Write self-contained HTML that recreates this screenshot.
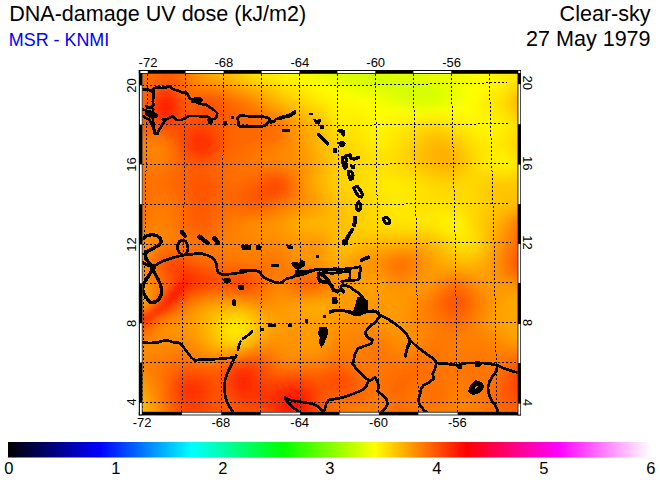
<!DOCTYPE html>
<html><head><meta charset="utf-8"><title>DNA-damage UV dose</title>
<style>
html,body{margin:0;padding:0;background:#fff;}
body{width:660px;height:480px;overflow:hidden;position:relative;font-family:"Liberation Sans",sans-serif;}
svg{position:absolute;left:0;top:0;}
text{font-family:"Liberation Sans",sans-serif;fill:#000;}
</style></head><body>
<svg width="660" height="480" viewBox="0 0 660 480">
<defs>
<clipPath id="mc"><rect x="142.5" y="73.8" width="375.0" height="338.0"/></clipPath>
<filter id="bl" x="-5%" y="-5%" width="110%" height="110%"><feGaussianBlur stdDeviation="3.5"/></filter>
<linearGradient id="cbg" x1="0" x2="1" y1="0" y2="0">
<stop offset="0" stop-color="#000"/><stop offset="0.142857" stop-color="#00f"/><stop offset="0.285714" stop-color="#0ff"/>
<stop offset="0.428571" stop-color="#0f0"/><stop offset="0.571429" stop-color="#ff0"/><stop offset="0.714286" stop-color="#f00"/>
<stop offset="0.857143" stop-color="#f0f"/><stop offset="1" stop-color="#fff"/>
</linearGradient>
</defs>
<rect x="0" y="0" width="660" height="480" fill="#fff"/>
<g clip-path="url(#mc)">
<rect x="142.5" y="73.8" width="375.0" height="338.0" fill="#ff9000"/>
<g filter="url(#bl)" shape-rendering="crispEdges">
<rect x="118" y="50" width="25" height="9" fill="#ff6600"/>
<rect x="142" y="50" width="9" height="9" fill="#ff6e00"/>
<rect x="150" y="50" width="9" height="9" fill="#ff6700"/>
<rect x="158" y="50" width="9" height="9" fill="#ff5d00"/>
<rect x="166" y="50" width="9" height="9" fill="#ff5900"/>
<rect x="174" y="50" width="9" height="9" fill="#ff6300"/>
<rect x="182" y="50" width="9" height="9" fill="#ff7500"/>
<rect x="190" y="50" width="9" height="9" fill="#ff8a00"/>
<rect x="198" y="50" width="9" height="9" fill="#ff9e00"/>
<rect x="206" y="50" width="9" height="9" fill="#ffab00"/>
<rect x="214" y="50" width="9" height="9" fill="#ffb400"/>
<rect x="222" y="50" width="9" height="9" fill="#ffbc00"/>
<rect x="230" y="50" width="9" height="9" fill="#ffc700"/>
<rect x="238" y="50" width="9" height="9" fill="#ffd400"/>
<rect x="246" y="50" width="9" height="9" fill="#ffe000"/>
<rect x="254" y="50" width="9" height="9" fill="#ffea00"/>
<rect x="262" y="50" width="9" height="9" fill="#fff100"/>
<rect x="270" y="50" width="9" height="9" fill="#fff500"/>
<rect x="278" y="50" width="9" height="9" fill="#fff900"/>
<rect x="286" y="50" width="9" height="9" fill="#fffe00"/>
<rect x="294" y="50" width="9" height="9" fill="#f8ff00"/>
<rect x="302" y="50" width="9" height="9" fill="#f1ff00"/>
<rect x="310" y="50" width="9" height="9" fill="#edff00"/>
<rect x="318" y="50" width="9" height="9" fill="#e7ff00"/>
<rect x="326" y="50" width="9" height="9" fill="#e1ff00"/>
<rect x="334" y="50" width="9" height="9" fill="#dbff00"/>
<rect x="342" y="50" width="9" height="9" fill="#daff00"/>
<rect x="350" y="50" width="9" height="9" fill="#d9ff00"/>
<rect x="358" y="50" width="9" height="9" fill="#d6ff00"/>
<rect x="366" y="50" width="17" height="9" fill="#d3ff00"/>
<rect x="382" y="50" width="9" height="9" fill="#d8ff00"/>
<rect x="390" y="50" width="17" height="9" fill="#ddff00"/>
<rect x="406" y="50" width="9" height="9" fill="#dcff00"/>
<rect x="414" y="50" width="9" height="9" fill="#e0ff00"/>
<rect x="422" y="50" width="9" height="9" fill="#e7ff00"/>
<rect x="430" y="50" width="9" height="9" fill="#ecff00"/>
<rect x="438" y="50" width="17" height="9" fill="#edff00"/>
<rect x="454" y="50" width="9" height="9" fill="#f1ff00"/>
<rect x="462" y="50" width="9" height="9" fill="#f8ff00"/>
<rect x="470" y="50" width="9" height="9" fill="#feff00"/>
<rect x="478" y="50" width="9" height="9" fill="#fffc00"/>
<rect x="486" y="50" width="9" height="9" fill="#fff700"/>
<rect x="494" y="50" width="9" height="9" fill="#fff100"/>
<rect x="502" y="50" width="9" height="9" fill="#ffec00"/>
<rect x="510" y="50" width="9" height="9" fill="#ffea00"/>
<rect x="518" y="50" width="25" height="9" fill="#ffec00"/>
<rect x="118" y="58" width="25" height="9" fill="#ff6600"/>
<rect x="142" y="58" width="9" height="9" fill="#ff6e00"/>
<rect x="150" y="58" width="9" height="9" fill="#ff6700"/>
<rect x="158" y="58" width="9" height="9" fill="#ff5d00"/>
<rect x="166" y="58" width="9" height="9" fill="#ff5a00"/>
<rect x="174" y="58" width="9" height="9" fill="#ff6300"/>
<rect x="182" y="58" width="9" height="9" fill="#ff7500"/>
<rect x="190" y="58" width="9" height="9" fill="#ff8a00"/>
<rect x="198" y="58" width="9" height="9" fill="#ff9e00"/>
<rect x="206" y="58" width="9" height="9" fill="#ffab00"/>
<rect x="214" y="58" width="9" height="9" fill="#ffb400"/>
<rect x="222" y="58" width="9" height="9" fill="#ffbc00"/>
<rect x="230" y="58" width="9" height="9" fill="#ffc700"/>
<rect x="238" y="58" width="9" height="9" fill="#ffd400"/>
<rect x="246" y="58" width="9" height="9" fill="#ffe000"/>
<rect x="254" y="58" width="9" height="9" fill="#ffea00"/>
<rect x="262" y="58" width="9" height="9" fill="#fff100"/>
<rect x="270" y="58" width="9" height="9" fill="#fff500"/>
<rect x="278" y="58" width="9" height="9" fill="#fff900"/>
<rect x="286" y="58" width="9" height="9" fill="#fffe00"/>
<rect x="294" y="58" width="9" height="9" fill="#f8ff00"/>
<rect x="302" y="58" width="9" height="9" fill="#f1ff00"/>
<rect x="310" y="58" width="9" height="9" fill="#edff00"/>
<rect x="318" y="58" width="9" height="9" fill="#e7ff00"/>
<rect x="326" y="58" width="9" height="9" fill="#e1ff00"/>
<rect x="334" y="58" width="9" height="9" fill="#dbff00"/>
<rect x="342" y="58" width="9" height="9" fill="#daff00"/>
<rect x="350" y="58" width="9" height="9" fill="#d9ff00"/>
<rect x="358" y="58" width="9" height="9" fill="#d6ff00"/>
<rect x="366" y="58" width="17" height="9" fill="#d3ff00"/>
<rect x="382" y="58" width="9" height="9" fill="#d8ff00"/>
<rect x="390" y="58" width="17" height="9" fill="#ddff00"/>
<rect x="406" y="58" width="9" height="9" fill="#dcff00"/>
<rect x="414" y="58" width="9" height="9" fill="#e0ff00"/>
<rect x="422" y="58" width="9" height="9" fill="#e7ff00"/>
<rect x="430" y="58" width="9" height="9" fill="#ecff00"/>
<rect x="438" y="58" width="17" height="9" fill="#edff00"/>
<rect x="454" y="58" width="9" height="9" fill="#f1ff00"/>
<rect x="462" y="58" width="9" height="9" fill="#f8ff00"/>
<rect x="470" y="58" width="9" height="9" fill="#feff00"/>
<rect x="478" y="58" width="9" height="9" fill="#fffc00"/>
<rect x="486" y="58" width="9" height="9" fill="#fff700"/>
<rect x="494" y="58" width="9" height="9" fill="#fff100"/>
<rect x="502" y="58" width="9" height="9" fill="#ffec00"/>
<rect x="510" y="58" width="9" height="9" fill="#ffea00"/>
<rect x="518" y="58" width="25" height="9" fill="#ffec00"/>
<rect x="118" y="66" width="25" height="9" fill="#ff6600"/>
<rect x="142" y="66" width="9" height="9" fill="#ff6e00"/>
<rect x="150" y="66" width="9" height="9" fill="#ff6700"/>
<rect x="158" y="66" width="9" height="9" fill="#ff5d00"/>
<rect x="166" y="66" width="9" height="9" fill="#ff5a00"/>
<rect x="174" y="66" width="9" height="9" fill="#ff6300"/>
<rect x="182" y="66" width="9" height="9" fill="#ff7500"/>
<rect x="190" y="66" width="9" height="9" fill="#ff8a00"/>
<rect x="198" y="66" width="9" height="9" fill="#ff9e00"/>
<rect x="206" y="66" width="9" height="9" fill="#ffab00"/>
<rect x="214" y="66" width="9" height="9" fill="#ffb400"/>
<rect x="222" y="66" width="9" height="9" fill="#ffbc00"/>
<rect x="230" y="66" width="9" height="9" fill="#ffc700"/>
<rect x="238" y="66" width="9" height="9" fill="#ffd300"/>
<rect x="246" y="66" width="9" height="9" fill="#ffe000"/>
<rect x="254" y="66" width="9" height="9" fill="#ffea00"/>
<rect x="262" y="66" width="9" height="9" fill="#fff100"/>
<rect x="270" y="66" width="9" height="9" fill="#fff400"/>
<rect x="278" y="66" width="9" height="9" fill="#fff800"/>
<rect x="286" y="66" width="9" height="9" fill="#fffe00"/>
<rect x="294" y="66" width="9" height="9" fill="#f8ff00"/>
<rect x="302" y="66" width="9" height="9" fill="#f2ff00"/>
<rect x="310" y="66" width="9" height="9" fill="#edff00"/>
<rect x="318" y="66" width="9" height="9" fill="#e8ff00"/>
<rect x="326" y="66" width="9" height="9" fill="#e1ff00"/>
<rect x="334" y="66" width="9" height="9" fill="#dcff00"/>
<rect x="342" y="66" width="9" height="9" fill="#daff00"/>
<rect x="350" y="66" width="9" height="9" fill="#d9ff00"/>
<rect x="358" y="66" width="9" height="9" fill="#d6ff00"/>
<rect x="366" y="66" width="17" height="9" fill="#d3ff00"/>
<rect x="382" y="66" width="9" height="9" fill="#d8ff00"/>
<rect x="390" y="66" width="9" height="9" fill="#dcff00"/>
<rect x="398" y="66" width="9" height="9" fill="#ddff00"/>
<rect x="406" y="66" width="9" height="9" fill="#dcff00"/>
<rect x="414" y="66" width="9" height="9" fill="#dfff00"/>
<rect x="422" y="66" width="9" height="9" fill="#e7ff00"/>
<rect x="430" y="66" width="9" height="9" fill="#ecff00"/>
<rect x="438" y="66" width="17" height="9" fill="#edff00"/>
<rect x="454" y="66" width="9" height="9" fill="#f1ff00"/>
<rect x="462" y="66" width="9" height="9" fill="#f8ff00"/>
<rect x="470" y="66" width="9" height="9" fill="#feff00"/>
<rect x="478" y="66" width="9" height="9" fill="#fffc00"/>
<rect x="486" y="66" width="9" height="9" fill="#fff800"/>
<rect x="494" y="66" width="9" height="9" fill="#fff100"/>
<rect x="502" y="66" width="9" height="9" fill="#ffec00"/>
<rect x="510" y="66" width="9" height="9" fill="#ffea00"/>
<rect x="518" y="66" width="25" height="9" fill="#ffeb00"/>
<rect x="118" y="74" width="25" height="9" fill="#ff6500"/>
<rect x="142" y="74" width="9" height="9" fill="#ff6d00"/>
<rect x="150" y="74" width="9" height="9" fill="#ff6700"/>
<rect x="158" y="74" width="9" height="9" fill="#ff5d00"/>
<rect x="166" y="74" width="9" height="9" fill="#ff5b00"/>
<rect x="174" y="74" width="9" height="9" fill="#ff6400"/>
<rect x="182" y="74" width="9" height="9" fill="#ff7500"/>
<rect x="190" y="74" width="9" height="9" fill="#ff8800"/>
<rect x="198" y="74" width="9" height="9" fill="#ff9800"/>
<rect x="206" y="74" width="9" height="9" fill="#ffa300"/>
<rect x="214" y="74" width="9" height="9" fill="#ffab00"/>
<rect x="222" y="74" width="9" height="9" fill="#ffb300"/>
<rect x="230" y="74" width="9" height="9" fill="#ffbf00"/>
<rect x="238" y="74" width="9" height="9" fill="#ffcb00"/>
<rect x="246" y="74" width="9" height="9" fill="#ffd600"/>
<rect x="254" y="74" width="9" height="9" fill="#ffdf00"/>
<rect x="262" y="74" width="9" height="9" fill="#ffe600"/>
<rect x="270" y="74" width="9" height="9" fill="#ffec00"/>
<rect x="278" y="74" width="9" height="9" fill="#fff100"/>
<rect x="286" y="74" width="9" height="9" fill="#fff800"/>
<rect x="294" y="74" width="9" height="9" fill="#fffd00"/>
<rect x="302" y="74" width="9" height="9" fill="#fbff00"/>
<rect x="310" y="74" width="9" height="9" fill="#f5ff00"/>
<rect x="318" y="74" width="9" height="9" fill="#eeff00"/>
<rect x="326" y="74" width="9" height="9" fill="#e7ff00"/>
<rect x="334" y="74" width="9" height="9" fill="#e1ff00"/>
<rect x="342" y="74" width="9" height="9" fill="#ddff00"/>
<rect x="350" y="74" width="9" height="9" fill="#daff00"/>
<rect x="358" y="74" width="9" height="9" fill="#d7ff00"/>
<rect x="366" y="74" width="17" height="9" fill="#d5ff00"/>
<rect x="382" y="74" width="9" height="9" fill="#d7ff00"/>
<rect x="390" y="74" width="17" height="9" fill="#d9ff00"/>
<rect x="406" y="74" width="9" height="9" fill="#daff00"/>
<rect x="414" y="74" width="9" height="9" fill="#ddff00"/>
<rect x="422" y="74" width="9" height="9" fill="#e3ff00"/>
<rect x="430" y="74" width="9" height="9" fill="#e8ff00"/>
<rect x="438" y="74" width="9" height="9" fill="#eaff00"/>
<rect x="446" y="74" width="9" height="9" fill="#ecff00"/>
<rect x="454" y="74" width="9" height="9" fill="#f0ff00"/>
<rect x="462" y="74" width="9" height="9" fill="#f7ff00"/>
<rect x="470" y="74" width="9" height="9" fill="#fcff00"/>
<rect x="478" y="74" width="9" height="9" fill="#fffe00"/>
<rect x="486" y="74" width="9" height="9" fill="#fff900"/>
<rect x="494" y="74" width="9" height="9" fill="#fff400"/>
<rect x="502" y="74" width="9" height="9" fill="#ffed00"/>
<rect x="510" y="74" width="33" height="9" fill="#ffe900"/>
<rect x="118" y="82" width="25" height="9" fill="#ff6300"/>
<rect x="142" y="82" width="9" height="9" fill="#ff6a00"/>
<rect x="150" y="82" width="9" height="9" fill="#ff5f00"/>
<rect x="158" y="82" width="9" height="9" fill="#ff5100"/>
<rect x="166" y="82" width="9" height="9" fill="#ff5000"/>
<rect x="174" y="82" width="9" height="9" fill="#ff5e00"/>
<rect x="182" y="82" width="9" height="9" fill="#ff7000"/>
<rect x="190" y="82" width="9" height="9" fill="#ff7b00"/>
<rect x="198" y="82" width="9" height="9" fill="#ff8200"/>
<rect x="206" y="82" width="9" height="9" fill="#ff8700"/>
<rect x="214" y="82" width="9" height="9" fill="#ff8e00"/>
<rect x="222" y="82" width="9" height="9" fill="#ff9700"/>
<rect x="230" y="82" width="9" height="9" fill="#ffa200"/>
<rect x="238" y="82" width="9" height="9" fill="#ffad00"/>
<rect x="246" y="82" width="9" height="9" fill="#ffb700"/>
<rect x="254" y="82" width="9" height="9" fill="#ffbf00"/>
<rect x="262" y="82" width="9" height="9" fill="#ffc900"/>
<rect x="270" y="82" width="9" height="9" fill="#ffd400"/>
<rect x="278" y="82" width="9" height="9" fill="#ffde00"/>
<rect x="286" y="82" width="9" height="9" fill="#ffe600"/>
<rect x="294" y="82" width="9" height="9" fill="#ffed00"/>
<rect x="302" y="82" width="9" height="9" fill="#fff300"/>
<rect x="310" y="82" width="9" height="9" fill="#fff900"/>
<rect x="318" y="82" width="9" height="9" fill="#fffe00"/>
<rect x="326" y="82" width="9" height="9" fill="#f9ff00"/>
<rect x="334" y="82" width="9" height="9" fill="#f2ff00"/>
<rect x="342" y="82" width="9" height="9" fill="#ebff00"/>
<rect x="350" y="82" width="9" height="9" fill="#e4ff00"/>
<rect x="358" y="82" width="9" height="9" fill="#e1ff00"/>
<rect x="366" y="82" width="9" height="9" fill="#e0ff00"/>
<rect x="374" y="82" width="9" height="9" fill="#deff00"/>
<rect x="382" y="82" width="9" height="9" fill="#daff00"/>
<rect x="390" y="82" width="9" height="9" fill="#d6ff00"/>
<rect x="398" y="82" width="9" height="9" fill="#d5ff00"/>
<rect x="406" y="82" width="9" height="9" fill="#d6ff00"/>
<rect x="414" y="82" width="9" height="9" fill="#d7ff00"/>
<rect x="422" y="82" width="9" height="9" fill="#d9ff00"/>
<rect x="430" y="82" width="9" height="9" fill="#ddff00"/>
<rect x="438" y="82" width="9" height="9" fill="#e2ff00"/>
<rect x="446" y="82" width="9" height="9" fill="#e8ff00"/>
<rect x="454" y="82" width="9" height="9" fill="#eeff00"/>
<rect x="462" y="82" width="9" height="9" fill="#f5ff00"/>
<rect x="470" y="82" width="9" height="9" fill="#fcff00"/>
<rect x="478" y="82" width="9" height="9" fill="#fffc00"/>
<rect x="486" y="82" width="9" height="9" fill="#fff800"/>
<rect x="494" y="82" width="9" height="9" fill="#fff200"/>
<rect x="502" y="82" width="9" height="9" fill="#ffea00"/>
<rect x="510" y="82" width="9" height="9" fill="#ffde00"/>
<rect x="518" y="82" width="25" height="9" fill="#ffd600"/>
<rect x="118" y="90" width="33" height="9" fill="#ff6400"/>
<rect x="150" y="90" width="9" height="9" fill="#ff4f00"/>
<rect x="158" y="90" width="9" height="9" fill="#ff3900"/>
<rect x="166" y="90" width="9" height="9" fill="#ff3800"/>
<rect x="174" y="90" width="9" height="9" fill="#ff4f00"/>
<rect x="182" y="90" width="9" height="9" fill="#ff6600"/>
<rect x="190" y="90" width="9" height="9" fill="#ff6b00"/>
<rect x="198" y="90" width="17" height="9" fill="#ff6900"/>
<rect x="214" y="90" width="9" height="9" fill="#ff7000"/>
<rect x="222" y="90" width="9" height="9" fill="#ff7a00"/>
<rect x="230" y="90" width="9" height="9" fill="#ff8500"/>
<rect x="238" y="90" width="9" height="9" fill="#ff8f00"/>
<rect x="246" y="90" width="9" height="9" fill="#ff9a00"/>
<rect x="254" y="90" width="9" height="9" fill="#ffa400"/>
<rect x="262" y="90" width="9" height="9" fill="#ffb200"/>
<rect x="270" y="90" width="9" height="9" fill="#ffc000"/>
<rect x="278" y="90" width="9" height="9" fill="#ffcd00"/>
<rect x="286" y="90" width="9" height="9" fill="#ffd600"/>
<rect x="294" y="90" width="9" height="9" fill="#ffde00"/>
<rect x="302" y="90" width="9" height="9" fill="#ffe600"/>
<rect x="310" y="90" width="9" height="9" fill="#ffee00"/>
<rect x="318" y="90" width="9" height="9" fill="#fff500"/>
<rect x="326" y="90" width="9" height="9" fill="#fff900"/>
<rect x="334" y="90" width="9" height="9" fill="#fffd00"/>
<rect x="342" y="90" width="9" height="9" fill="#fbff00"/>
<rect x="350" y="90" width="9" height="9" fill="#f4ff00"/>
<rect x="358" y="90" width="9" height="9" fill="#f0ff00"/>
<rect x="366" y="90" width="9" height="9" fill="#eeff00"/>
<rect x="374" y="90" width="9" height="9" fill="#e9ff00"/>
<rect x="382" y="90" width="9" height="9" fill="#e2ff00"/>
<rect x="390" y="90" width="9" height="9" fill="#dbff00"/>
<rect x="398" y="90" width="9" height="9" fill="#d8ff00"/>
<rect x="406" y="90" width="9" height="9" fill="#d7ff00"/>
<rect x="414" y="90" width="9" height="9" fill="#d6ff00"/>
<rect x="422" y="90" width="9" height="9" fill="#d4ff00"/>
<rect x="430" y="90" width="9" height="9" fill="#d5ff00"/>
<rect x="438" y="90" width="9" height="9" fill="#ddff00"/>
<rect x="446" y="90" width="9" height="9" fill="#e6ff00"/>
<rect x="454" y="90" width="9" height="9" fill="#eeff00"/>
<rect x="462" y="90" width="9" height="9" fill="#f6ff00"/>
<rect x="470" y="90" width="9" height="9" fill="#fffe00"/>
<rect x="478" y="90" width="9" height="9" fill="#fff700"/>
<rect x="486" y="90" width="9" height="9" fill="#fff000"/>
<rect x="494" y="90" width="9" height="9" fill="#ffea00"/>
<rect x="502" y="90" width="9" height="9" fill="#ffe000"/>
<rect x="510" y="90" width="9" height="9" fill="#ffcd00"/>
<rect x="518" y="90" width="9" height="9" fill="#ffbe00"/>
<rect x="526" y="90" width="17" height="9" fill="#ffbd00"/>
<rect x="118" y="98" width="17" height="9" fill="#ff6300"/>
<rect x="134" y="98" width="9" height="9" fill="#ff6400"/>
<rect x="142" y="98" width="9" height="9" fill="#ff5e00"/>
<rect x="150" y="98" width="9" height="9" fill="#ff4000"/>
<rect x="158" y="98" width="9" height="9" fill="#ff2300"/>
<rect x="166" y="98" width="9" height="9" fill="#ff2400"/>
<rect x="174" y="98" width="9" height="9" fill="#ff4100"/>
<rect x="182" y="98" width="9" height="9" fill="#ff5b00"/>
<rect x="190" y="98" width="9" height="9" fill="#ff5e00"/>
<rect x="198" y="98" width="9" height="9" fill="#ff5500"/>
<rect x="206" y="98" width="9" height="9" fill="#ff5300"/>
<rect x="214" y="98" width="9" height="9" fill="#ff5a00"/>
<rect x="222" y="98" width="9" height="9" fill="#ff6500"/>
<rect x="230" y="98" width="9" height="9" fill="#ff6e00"/>
<rect x="238" y="98" width="9" height="9" fill="#ff7700"/>
<rect x="246" y="98" width="9" height="9" fill="#ff8200"/>
<rect x="254" y="98" width="9" height="9" fill="#ff8f00"/>
<rect x="262" y="98" width="9" height="9" fill="#ff9d00"/>
<rect x="270" y="98" width="9" height="9" fill="#ffac00"/>
<rect x="278" y="98" width="9" height="9" fill="#ffba00"/>
<rect x="286" y="98" width="9" height="9" fill="#ffc500"/>
<rect x="294" y="98" width="9" height="9" fill="#ffce00"/>
<rect x="302" y="98" width="9" height="9" fill="#ffd800"/>
<rect x="310" y="98" width="9" height="9" fill="#ffe200"/>
<rect x="318" y="98" width="9" height="9" fill="#ffea00"/>
<rect x="326" y="98" width="9" height="9" fill="#fff100"/>
<rect x="334" y="98" width="9" height="9" fill="#fff600"/>
<rect x="342" y="98" width="9" height="9" fill="#fff900"/>
<rect x="350" y="98" width="9" height="9" fill="#fffb00"/>
<rect x="358" y="98" width="9" height="9" fill="#fffe00"/>
<rect x="366" y="98" width="9" height="9" fill="#fbff00"/>
<rect x="374" y="98" width="9" height="9" fill="#f5ff00"/>
<rect x="382" y="98" width="9" height="9" fill="#edff00"/>
<rect x="390" y="98" width="9" height="9" fill="#e7ff00"/>
<rect x="398" y="98" width="9" height="9" fill="#e4ff00"/>
<rect x="406" y="98" width="9" height="9" fill="#e1ff00"/>
<rect x="414" y="98" width="9" height="9" fill="#deff00"/>
<rect x="422" y="98" width="9" height="9" fill="#daff00"/>
<rect x="430" y="98" width="9" height="9" fill="#dbff00"/>
<rect x="438" y="98" width="9" height="9" fill="#e2ff00"/>
<rect x="446" y="98" width="9" height="9" fill="#ecff00"/>
<rect x="454" y="98" width="9" height="9" fill="#f3ff00"/>
<rect x="462" y="98" width="9" height="9" fill="#f9ff00"/>
<rect x="470" y="98" width="9" height="9" fill="#fffc00"/>
<rect x="478" y="98" width="9" height="9" fill="#fff200"/>
<rect x="486" y="98" width="9" height="9" fill="#ffe900"/>
<rect x="494" y="98" width="9" height="9" fill="#ffe300"/>
<rect x="502" y="98" width="9" height="9" fill="#ffd800"/>
<rect x="510" y="98" width="9" height="9" fill="#ffc200"/>
<rect x="518" y="98" width="9" height="9" fill="#ffae00"/>
<rect x="526" y="98" width="17" height="9" fill="#ffad00"/>
<rect x="118" y="106" width="25" height="9" fill="#ff6000"/>
<rect x="142" y="106" width="9" height="9" fill="#ff5800"/>
<rect x="150" y="106" width="9" height="9" fill="#ff3b00"/>
<rect x="158" y="106" width="9" height="9" fill="#ff2100"/>
<rect x="166" y="106" width="9" height="9" fill="#ff2200"/>
<rect x="174" y="106" width="9" height="9" fill="#ff3d00"/>
<rect x="182" y="106" width="9" height="9" fill="#ff5500"/>
<rect x="190" y="106" width="9" height="9" fill="#ff5600"/>
<rect x="198" y="106" width="9" height="9" fill="#ff4d00"/>
<rect x="206" y="106" width="9" height="9" fill="#ff4b00"/>
<rect x="214" y="106" width="9" height="9" fill="#ff5200"/>
<rect x="222" y="106" width="9" height="9" fill="#ff5c00"/>
<rect x="230" y="106" width="9" height="9" fill="#ff6300"/>
<rect x="238" y="106" width="9" height="9" fill="#ff6a00"/>
<rect x="246" y="106" width="9" height="9" fill="#ff7200"/>
<rect x="254" y="106" width="9" height="9" fill="#ff7d00"/>
<rect x="262" y="106" width="9" height="9" fill="#ff8900"/>
<rect x="270" y="106" width="9" height="9" fill="#ff9600"/>
<rect x="278" y="106" width="9" height="9" fill="#ffa400"/>
<rect x="286" y="106" width="9" height="9" fill="#ffb200"/>
<rect x="294" y="106" width="9" height="9" fill="#ffbe00"/>
<rect x="302" y="106" width="9" height="9" fill="#ffc800"/>
<rect x="310" y="106" width="9" height="9" fill="#ffd000"/>
<rect x="318" y="106" width="9" height="9" fill="#ffdb00"/>
<rect x="326" y="106" width="9" height="9" fill="#ffe800"/>
<rect x="334" y="106" width="9" height="9" fill="#fff200"/>
<rect x="342" y="106" width="9" height="9" fill="#fff500"/>
<rect x="350" y="106" width="9" height="9" fill="#fff400"/>
<rect x="358" y="106" width="9" height="9" fill="#fff600"/>
<rect x="366" y="106" width="9" height="9" fill="#fffb00"/>
<rect x="374" y="106" width="9" height="9" fill="#feff00"/>
<rect x="382" y="106" width="9" height="9" fill="#faff00"/>
<rect x="390" y="106" width="9" height="9" fill="#f9ff00"/>
<rect x="398" y="106" width="9" height="9" fill="#f8ff00"/>
<rect x="406" y="106" width="9" height="9" fill="#f5ff00"/>
<rect x="414" y="106" width="9" height="9" fill="#f3ff00"/>
<rect x="422" y="106" width="9" height="9" fill="#f2ff00"/>
<rect x="430" y="106" width="9" height="9" fill="#f4ff00"/>
<rect x="438" y="106" width="9" height="9" fill="#f8ff00"/>
<rect x="446" y="106" width="9" height="9" fill="#fcff00"/>
<rect x="454" y="106" width="9" height="9" fill="#feff00"/>
<rect x="462" y="106" width="9" height="9" fill="#fffe00"/>
<rect x="470" y="106" width="9" height="9" fill="#fffa00"/>
<rect x="478" y="106" width="9" height="9" fill="#fff300"/>
<rect x="486" y="106" width="9" height="9" fill="#ffeb00"/>
<rect x="494" y="106" width="9" height="9" fill="#ffe500"/>
<rect x="502" y="106" width="9" height="9" fill="#ffdb00"/>
<rect x="510" y="106" width="9" height="9" fill="#ffc800"/>
<rect x="518" y="106" width="25" height="9" fill="#ffb500"/>
<rect x="118" y="114" width="25" height="9" fill="#ff5c00"/>
<rect x="142" y="114" width="9" height="9" fill="#ff5500"/>
<rect x="150" y="114" width="9" height="9" fill="#ff4200"/>
<rect x="158" y="114" width="9" height="9" fill="#ff3200"/>
<rect x="166" y="114" width="9" height="9" fill="#ff3300"/>
<rect x="174" y="114" width="9" height="9" fill="#ff4300"/>
<rect x="182" y="114" width="17" height="9" fill="#ff5200"/>
<rect x="198" y="114" width="9" height="9" fill="#ff4d00"/>
<rect x="206" y="114" width="9" height="9" fill="#ff4e00"/>
<rect x="214" y="114" width="9" height="9" fill="#ff5500"/>
<rect x="222" y="114" width="9" height="9" fill="#ff5c00"/>
<rect x="230" y="114" width="9" height="9" fill="#ff6100"/>
<rect x="238" y="114" width="9" height="9" fill="#ff6600"/>
<rect x="246" y="114" width="9" height="9" fill="#ff6a00"/>
<rect x="254" y="114" width="9" height="9" fill="#ff7000"/>
<rect x="262" y="114" width="9" height="9" fill="#ff7600"/>
<rect x="270" y="114" width="9" height="9" fill="#ff7f00"/>
<rect x="278" y="114" width="9" height="9" fill="#ff8c00"/>
<rect x="286" y="114" width="9" height="9" fill="#ff9e00"/>
<rect x="294" y="114" width="9" height="9" fill="#ffaf00"/>
<rect x="302" y="114" width="9" height="9" fill="#ffb800"/>
<rect x="310" y="114" width="9" height="9" fill="#ffbe00"/>
<rect x="318" y="114" width="9" height="9" fill="#ffcb00"/>
<rect x="326" y="114" width="9" height="9" fill="#ffdf00"/>
<rect x="334" y="114" width="9" height="9" fill="#ffee00"/>
<rect x="342" y="114" width="9" height="9" fill="#fff100"/>
<rect x="350" y="114" width="9" height="9" fill="#ffef00"/>
<rect x="358" y="114" width="9" height="9" fill="#fff100"/>
<rect x="366" y="114" width="9" height="9" fill="#fff800"/>
<rect x="374" y="114" width="9" height="9" fill="#fffc00"/>
<rect x="382" y="114" width="9" height="9" fill="#fffb00"/>
<rect x="390" y="114" width="9" height="9" fill="#fff700"/>
<rect x="398" y="114" width="17" height="9" fill="#fff600"/>
<rect x="414" y="114" width="9" height="9" fill="#fff400"/>
<rect x="422" y="114" width="9" height="9" fill="#fff100"/>
<rect x="430" y="114" width="9" height="9" fill="#ffef00"/>
<rect x="438" y="114" width="9" height="9" fill="#fff000"/>
<rect x="446" y="114" width="9" height="9" fill="#fff300"/>
<rect x="454" y="114" width="9" height="9" fill="#fff600"/>
<rect x="462" y="114" width="17" height="9" fill="#fff800"/>
<rect x="478" y="114" width="9" height="9" fill="#fff600"/>
<rect x="486" y="114" width="9" height="9" fill="#fff200"/>
<rect x="494" y="114" width="9" height="9" fill="#ffed00"/>
<rect x="502" y="114" width="9" height="9" fill="#ffe500"/>
<rect x="510" y="114" width="9" height="9" fill="#ffd800"/>
<rect x="518" y="114" width="9" height="9" fill="#ffcd00"/>
<rect x="526" y="114" width="17" height="9" fill="#ffcc00"/>
<rect x="118" y="122" width="25" height="9" fill="#ff5e00"/>
<rect x="142" y="122" width="9" height="9" fill="#ff5c00"/>
<rect x="150" y="122" width="9" height="9" fill="#ff5400"/>
<rect x="158" y="122" width="9" height="9" fill="#ff4c00"/>
<rect x="166" y="122" width="9" height="9" fill="#ff4a00"/>
<rect x="174" y="122" width="9" height="9" fill="#ff4c00"/>
<rect x="182" y="122" width="9" height="9" fill="#ff4e00"/>
<rect x="190" y="122" width="9" height="9" fill="#ff4a00"/>
<rect x="198" y="122" width="9" height="9" fill="#ff4800"/>
<rect x="206" y="122" width="9" height="9" fill="#ff4c00"/>
<rect x="214" y="122" width="9" height="9" fill="#ff5600"/>
<rect x="222" y="122" width="9" height="9" fill="#ff5f00"/>
<rect x="230" y="122" width="9" height="9" fill="#ff6400"/>
<rect x="238" y="122" width="9" height="9" fill="#ff6600"/>
<rect x="246" y="122" width="9" height="9" fill="#ff6700"/>
<rect x="254" y="122" width="9" height="9" fill="#ff6800"/>
<rect x="262" y="122" width="9" height="9" fill="#ff6a00"/>
<rect x="270" y="122" width="9" height="9" fill="#ff6f00"/>
<rect x="278" y="122" width="9" height="9" fill="#ff7c00"/>
<rect x="286" y="122" width="9" height="9" fill="#ff9000"/>
<rect x="294" y="122" width="9" height="9" fill="#ffa200"/>
<rect x="302" y="122" width="9" height="9" fill="#ffac00"/>
<rect x="310" y="122" width="9" height="9" fill="#ffb200"/>
<rect x="318" y="122" width="9" height="9" fill="#ffc000"/>
<rect x="326" y="122" width="9" height="9" fill="#ffd600"/>
<rect x="334" y="122" width="9" height="9" fill="#ffe800"/>
<rect x="342" y="122" width="9" height="9" fill="#ffec00"/>
<rect x="350" y="122" width="9" height="9" fill="#ffe900"/>
<rect x="358" y="122" width="9" height="9" fill="#ffec00"/>
<rect x="366" y="122" width="9" height="9" fill="#fff400"/>
<rect x="374" y="122" width="9" height="9" fill="#fff800"/>
<rect x="382" y="122" width="9" height="9" fill="#fff500"/>
<rect x="390" y="122" width="9" height="9" fill="#ffef00"/>
<rect x="398" y="122" width="9" height="9" fill="#ffeb00"/>
<rect x="406" y="122" width="9" height="9" fill="#ffe800"/>
<rect x="414" y="122" width="9" height="9" fill="#ffe300"/>
<rect x="422" y="122" width="9" height="9" fill="#ffdc00"/>
<rect x="430" y="122" width="9" height="9" fill="#ffd800"/>
<rect x="438" y="122" width="9" height="9" fill="#ffdb00"/>
<rect x="446" y="122" width="9" height="9" fill="#ffe200"/>
<rect x="454" y="122" width="9" height="9" fill="#ffe900"/>
<rect x="462" y="122" width="9" height="9" fill="#ffef00"/>
<rect x="470" y="122" width="9" height="9" fill="#fff400"/>
<rect x="478" y="122" width="9" height="9" fill="#fff700"/>
<rect x="486" y="122" width="9" height="9" fill="#fff600"/>
<rect x="494" y="122" width="9" height="9" fill="#fff200"/>
<rect x="502" y="122" width="9" height="9" fill="#ffeb00"/>
<rect x="510" y="122" width="9" height="9" fill="#ffe300"/>
<rect x="518" y="122" width="9" height="9" fill="#ffdd00"/>
<rect x="526" y="122" width="17" height="9" fill="#ffdc00"/>
<rect x="118" y="130" width="25" height="9" fill="#ff6a00"/>
<rect x="142" y="130" width="9" height="9" fill="#ff6d00"/>
<rect x="150" y="130" width="9" height="9" fill="#ff6b00"/>
<rect x="158" y="130" width="9" height="9" fill="#ff6600"/>
<rect x="166" y="130" width="9" height="9" fill="#ff5e00"/>
<rect x="174" y="130" width="9" height="9" fill="#ff5300"/>
<rect x="182" y="130" width="9" height="9" fill="#ff4700"/>
<rect x="190" y="130" width="9" height="9" fill="#ff3b00"/>
<rect x="198" y="130" width="9" height="9" fill="#ff3600"/>
<rect x="206" y="130" width="9" height="9" fill="#ff3f00"/>
<rect x="214" y="130" width="9" height="9" fill="#ff5000"/>
<rect x="222" y="130" width="9" height="9" fill="#ff5e00"/>
<rect x="230" y="130" width="9" height="9" fill="#ff6500"/>
<rect x="238" y="130" width="17" height="9" fill="#ff6700"/>
<rect x="254" y="130" width="9" height="9" fill="#ff6800"/>
<rect x="262" y="130" width="9" height="9" fill="#ff6900"/>
<rect x="270" y="130" width="9" height="9" fill="#ff6d00"/>
<rect x="278" y="130" width="9" height="9" fill="#ff7800"/>
<rect x="286" y="130" width="9" height="9" fill="#ff8900"/>
<rect x="294" y="130" width="9" height="9" fill="#ff9a00"/>
<rect x="302" y="130" width="9" height="9" fill="#ffa600"/>
<rect x="310" y="130" width="9" height="9" fill="#ffaf00"/>
<rect x="318" y="130" width="9" height="9" fill="#ffbd00"/>
<rect x="326" y="130" width="9" height="9" fill="#ffcf00"/>
<rect x="334" y="130" width="9" height="9" fill="#ffde00"/>
<rect x="342" y="130" width="9" height="9" fill="#ffe200"/>
<rect x="350" y="130" width="9" height="9" fill="#ffe300"/>
<rect x="358" y="130" width="9" height="9" fill="#ffe800"/>
<rect x="366" y="130" width="9" height="9" fill="#fff000"/>
<rect x="374" y="130" width="9" height="9" fill="#fff400"/>
<rect x="382" y="130" width="9" height="9" fill="#fff000"/>
<rect x="390" y="130" width="9" height="9" fill="#ffe900"/>
<rect x="398" y="130" width="9" height="9" fill="#ffe300"/>
<rect x="406" y="130" width="9" height="9" fill="#ffde00"/>
<rect x="414" y="130" width="9" height="9" fill="#ffd500"/>
<rect x="422" y="130" width="9" height="9" fill="#ffcb00"/>
<rect x="430" y="130" width="9" height="9" fill="#ffc600"/>
<rect x="438" y="130" width="9" height="9" fill="#ffc900"/>
<rect x="446" y="130" width="9" height="9" fill="#ffd100"/>
<rect x="454" y="130" width="9" height="9" fill="#ffda00"/>
<rect x="462" y="130" width="9" height="9" fill="#ffe300"/>
<rect x="470" y="130" width="9" height="9" fill="#ffeb00"/>
<rect x="478" y="130" width="9" height="9" fill="#fff000"/>
<rect x="486" y="130" width="9" height="9" fill="#fff200"/>
<rect x="494" y="130" width="9" height="9" fill="#ffef00"/>
<rect x="502" y="130" width="9" height="9" fill="#ffe800"/>
<rect x="510" y="130" width="9" height="9" fill="#ffdf00"/>
<rect x="518" y="130" width="25" height="9" fill="#ffd800"/>
<rect x="118" y="138" width="17" height="9" fill="#ff7700"/>
<rect x="134" y="138" width="9" height="9" fill="#ff7800"/>
<rect x="142" y="138" width="9" height="9" fill="#ff7d00"/>
<rect x="150" y="138" width="9" height="9" fill="#ff7e00"/>
<rect x="158" y="138" width="9" height="9" fill="#ff7900"/>
<rect x="166" y="138" width="9" height="9" fill="#ff6d00"/>
<rect x="174" y="138" width="9" height="9" fill="#ff5900"/>
<rect x="182" y="138" width="9" height="9" fill="#ff4300"/>
<rect x="190" y="138" width="9" height="9" fill="#ff3000"/>
<rect x="198" y="138" width="9" height="9" fill="#ff2900"/>
<rect x="206" y="138" width="9" height="9" fill="#ff3400"/>
<rect x="214" y="138" width="9" height="9" fill="#ff4a00"/>
<rect x="222" y="138" width="9" height="9" fill="#ff5d00"/>
<rect x="230" y="138" width="9" height="9" fill="#ff6500"/>
<rect x="238" y="138" width="9" height="9" fill="#ff6800"/>
<rect x="246" y="138" width="9" height="9" fill="#ff6a00"/>
<rect x="254" y="138" width="9" height="9" fill="#ff6d00"/>
<rect x="262" y="138" width="9" height="9" fill="#ff7000"/>
<rect x="270" y="138" width="9" height="9" fill="#ff7500"/>
<rect x="278" y="138" width="9" height="9" fill="#ff7d00"/>
<rect x="286" y="138" width="9" height="9" fill="#ff8900"/>
<rect x="294" y="138" width="9" height="9" fill="#ff9600"/>
<rect x="302" y="138" width="9" height="9" fill="#ffa300"/>
<rect x="310" y="138" width="9" height="9" fill="#ffb000"/>
<rect x="318" y="138" width="9" height="9" fill="#ffbd00"/>
<rect x="326" y="138" width="9" height="9" fill="#ffca00"/>
<rect x="334" y="138" width="9" height="9" fill="#ffd400"/>
<rect x="342" y="138" width="9" height="9" fill="#ffd900"/>
<rect x="350" y="138" width="9" height="9" fill="#ffdd00"/>
<rect x="358" y="138" width="9" height="9" fill="#ffe300"/>
<rect x="366" y="138" width="9" height="9" fill="#ffeb00"/>
<rect x="374" y="138" width="9" height="9" fill="#ffef00"/>
<rect x="382" y="138" width="9" height="9" fill="#ffec00"/>
<rect x="390" y="138" width="9" height="9" fill="#ffe500"/>
<rect x="398" y="138" width="9" height="9" fill="#ffde00"/>
<rect x="406" y="138" width="9" height="9" fill="#ffd600"/>
<rect x="414" y="138" width="9" height="9" fill="#ffcc00"/>
<rect x="422" y="138" width="9" height="9" fill="#ffc100"/>
<rect x="430" y="138" width="17" height="9" fill="#ffba00"/>
<rect x="446" y="138" width="9" height="9" fill="#ffc100"/>
<rect x="454" y="138" width="9" height="9" fill="#ffcc00"/>
<rect x="462" y="138" width="9" height="9" fill="#ffd800"/>
<rect x="470" y="138" width="9" height="9" fill="#ffe100"/>
<rect x="478" y="138" width="9" height="9" fill="#ffe800"/>
<rect x="486" y="138" width="9" height="9" fill="#ffea00"/>
<rect x="494" y="138" width="9" height="9" fill="#ffe900"/>
<rect x="502" y="138" width="9" height="9" fill="#ffe400"/>
<rect x="510" y="138" width="9" height="9" fill="#ffd800"/>
<rect x="518" y="138" width="9" height="9" fill="#ffcd00"/>
<rect x="526" y="138" width="17" height="9" fill="#ffcc00"/>
<rect x="118" y="146" width="17" height="9" fill="#ff7d00"/>
<rect x="134" y="146" width="9" height="9" fill="#ff7e00"/>
<rect x="142" y="146" width="9" height="9" fill="#ff8300"/>
<rect x="150" y="146" width="9" height="9" fill="#ff8600"/>
<rect x="158" y="146" width="9" height="9" fill="#ff8200"/>
<rect x="166" y="146" width="9" height="9" fill="#ff7500"/>
<rect x="174" y="146" width="9" height="9" fill="#ff6000"/>
<rect x="182" y="146" width="9" height="9" fill="#ff4900"/>
<rect x="190" y="146" width="9" height="9" fill="#ff3700"/>
<rect x="198" y="146" width="9" height="9" fill="#ff3000"/>
<rect x="206" y="146" width="9" height="9" fill="#ff3b00"/>
<rect x="214" y="146" width="9" height="9" fill="#ff4f00"/>
<rect x="222" y="146" width="9" height="9" fill="#ff6000"/>
<rect x="230" y="146" width="9" height="9" fill="#ff6800"/>
<rect x="238" y="146" width="9" height="9" fill="#ff6b00"/>
<rect x="246" y="146" width="9" height="9" fill="#ff6f00"/>
<rect x="254" y="146" width="9" height="9" fill="#ff7400"/>
<rect x="262" y="146" width="9" height="9" fill="#ff7a00"/>
<rect x="270" y="146" width="9" height="9" fill="#ff7f00"/>
<rect x="278" y="146" width="9" height="9" fill="#ff8500"/>
<rect x="286" y="146" width="9" height="9" fill="#ff8c00"/>
<rect x="294" y="146" width="9" height="9" fill="#ff9500"/>
<rect x="302" y="146" width="9" height="9" fill="#ffa000"/>
<rect x="310" y="146" width="9" height="9" fill="#ffac00"/>
<rect x="318" y="146" width="9" height="9" fill="#ffb900"/>
<rect x="326" y="146" width="9" height="9" fill="#ffc500"/>
<rect x="334" y="146" width="9" height="9" fill="#ffce00"/>
<rect x="342" y="146" width="9" height="9" fill="#ffd400"/>
<rect x="350" y="146" width="9" height="9" fill="#ffd800"/>
<rect x="358" y="146" width="9" height="9" fill="#ffde00"/>
<rect x="366" y="146" width="9" height="9" fill="#ffe500"/>
<rect x="374" y="146" width="9" height="9" fill="#ffe800"/>
<rect x="382" y="146" width="9" height="9" fill="#ffe600"/>
<rect x="390" y="146" width="9" height="9" fill="#ffe000"/>
<rect x="398" y="146" width="9" height="9" fill="#ffd800"/>
<rect x="406" y="146" width="9" height="9" fill="#ffd000"/>
<rect x="414" y="146" width="9" height="9" fill="#ffc500"/>
<rect x="422" y="146" width="9" height="9" fill="#ffbb00"/>
<rect x="430" y="146" width="9" height="9" fill="#ffb300"/>
<rect x="438" y="146" width="9" height="9" fill="#ffb100"/>
<rect x="446" y="146" width="9" height="9" fill="#ffb600"/>
<rect x="454" y="146" width="9" height="9" fill="#ffc000"/>
<rect x="462" y="146" width="9" height="9" fill="#ffce00"/>
<rect x="470" y="146" width="9" height="9" fill="#ffdb00"/>
<rect x="478" y="146" width="9" height="9" fill="#ffe400"/>
<rect x="486" y="146" width="9" height="9" fill="#ffe900"/>
<rect x="494" y="146" width="9" height="9" fill="#ffeb00"/>
<rect x="502" y="146" width="9" height="9" fill="#ffe800"/>
<rect x="510" y="146" width="9" height="9" fill="#ffdc00"/>
<rect x="518" y="146" width="9" height="9" fill="#ffcc00"/>
<rect x="526" y="146" width="17" height="9" fill="#ffcb00"/>
<rect x="118" y="154" width="17" height="9" fill="#ff7a00"/>
<rect x="134" y="154" width="9" height="9" fill="#ff7b00"/>
<rect x="142" y="154" width="9" height="9" fill="#ff7f00"/>
<rect x="150" y="154" width="9" height="9" fill="#ff8200"/>
<rect x="158" y="154" width="9" height="9" fill="#ff8000"/>
<rect x="166" y="154" width="9" height="9" fill="#ff7600"/>
<rect x="174" y="154" width="9" height="9" fill="#ff6600"/>
<rect x="182" y="154" width="9" height="9" fill="#ff5600"/>
<rect x="190" y="154" width="9" height="9" fill="#ff4b00"/>
<rect x="198" y="154" width="9" height="9" fill="#ff4800"/>
<rect x="206" y="154" width="9" height="9" fill="#ff4f00"/>
<rect x="214" y="154" width="9" height="9" fill="#ff5c00"/>
<rect x="222" y="154" width="9" height="9" fill="#ff6600"/>
<rect x="230" y="154" width="9" height="9" fill="#ff6c00"/>
<rect x="238" y="154" width="9" height="9" fill="#ff6f00"/>
<rect x="246" y="154" width="9" height="9" fill="#ff7400"/>
<rect x="254" y="154" width="9" height="9" fill="#ff7a00"/>
<rect x="262" y="154" width="9" height="9" fill="#ff8000"/>
<rect x="270" y="154" width="9" height="9" fill="#ff8500"/>
<rect x="278" y="154" width="9" height="9" fill="#ff8a00"/>
<rect x="286" y="154" width="9" height="9" fill="#ff8e00"/>
<rect x="294" y="154" width="9" height="9" fill="#ff9300"/>
<rect x="302" y="154" width="9" height="9" fill="#ff9b00"/>
<rect x="310" y="154" width="9" height="9" fill="#ffa600"/>
<rect x="318" y="154" width="9" height="9" fill="#ffb300"/>
<rect x="326" y="154" width="9" height="9" fill="#ffc200"/>
<rect x="334" y="154" width="9" height="9" fill="#ffcd00"/>
<rect x="342" y="154" width="9" height="9" fill="#ffd300"/>
<rect x="350" y="154" width="9" height="9" fill="#ffd700"/>
<rect x="358" y="154" width="9" height="9" fill="#ffdb00"/>
<rect x="366" y="154" width="9" height="9" fill="#ffe000"/>
<rect x="374" y="154" width="9" height="9" fill="#ffe300"/>
<rect x="382" y="154" width="9" height="9" fill="#ffe100"/>
<rect x="390" y="154" width="9" height="9" fill="#ffdc00"/>
<rect x="398" y="154" width="9" height="9" fill="#ffd500"/>
<rect x="406" y="154" width="9" height="9" fill="#ffcc00"/>
<rect x="414" y="154" width="9" height="9" fill="#ffc300"/>
<rect x="422" y="154" width="9" height="9" fill="#ffba00"/>
<rect x="430" y="154" width="9" height="9" fill="#ffb300"/>
<rect x="438" y="154" width="9" height="9" fill="#ffae00"/>
<rect x="446" y="154" width="9" height="9" fill="#ffb000"/>
<rect x="454" y="154" width="9" height="9" fill="#ffba00"/>
<rect x="462" y="154" width="9" height="9" fill="#ffc900"/>
<rect x="470" y="154" width="9" height="9" fill="#ffd800"/>
<rect x="478" y="154" width="9" height="9" fill="#ffe300"/>
<rect x="486" y="154" width="9" height="9" fill="#ffeb00"/>
<rect x="494" y="154" width="17" height="9" fill="#fff000"/>
<rect x="510" y="154" width="9" height="9" fill="#ffe500"/>
<rect x="518" y="154" width="25" height="9" fill="#ffd400"/>
<rect x="118" y="162" width="17" height="9" fill="#ff7300"/>
<rect x="134" y="162" width="9" height="9" fill="#ff7400"/>
<rect x="142" y="162" width="9" height="9" fill="#ff7800"/>
<rect x="150" y="162" width="17" height="9" fill="#ff7a00"/>
<rect x="166" y="162" width="9" height="9" fill="#ff7300"/>
<rect x="174" y="162" width="9" height="9" fill="#ff6900"/>
<rect x="182" y="162" width="9" height="9" fill="#ff6000"/>
<rect x="190" y="162" width="9" height="9" fill="#ff5b00"/>
<rect x="198" y="162" width="9" height="9" fill="#ff5a00"/>
<rect x="206" y="162" width="9" height="9" fill="#ff5f00"/>
<rect x="214" y="162" width="9" height="9" fill="#ff6500"/>
<rect x="222" y="162" width="9" height="9" fill="#ff6b00"/>
<rect x="230" y="162" width="9" height="9" fill="#ff6e00"/>
<rect x="238" y="162" width="9" height="9" fill="#ff7100"/>
<rect x="246" y="162" width="9" height="9" fill="#ff7500"/>
<rect x="254" y="162" width="9" height="9" fill="#ff7800"/>
<rect x="262" y="162" width="9" height="9" fill="#ff7b00"/>
<rect x="270" y="162" width="9" height="9" fill="#ff7d00"/>
<rect x="278" y="162" width="9" height="9" fill="#ff8000"/>
<rect x="286" y="162" width="9" height="9" fill="#ff8700"/>
<rect x="294" y="162" width="9" height="9" fill="#ff8f00"/>
<rect x="302" y="162" width="9" height="9" fill="#ff9800"/>
<rect x="310" y="162" width="9" height="9" fill="#ffa300"/>
<rect x="318" y="162" width="9" height="9" fill="#ffb100"/>
<rect x="326" y="162" width="9" height="9" fill="#ffc100"/>
<rect x="334" y="162" width="9" height="9" fill="#ffcf00"/>
<rect x="342" y="162" width="9" height="9" fill="#ffd500"/>
<rect x="350" y="162" width="9" height="9" fill="#ffd700"/>
<rect x="358" y="162" width="9" height="9" fill="#ffda00"/>
<rect x="366" y="162" width="9" height="9" fill="#ffde00"/>
<rect x="374" y="162" width="9" height="9" fill="#ffe100"/>
<rect x="382" y="162" width="9" height="9" fill="#ffe000"/>
<rect x="390" y="162" width="9" height="9" fill="#ffdc00"/>
<rect x="398" y="162" width="9" height="9" fill="#ffd600"/>
<rect x="406" y="162" width="9" height="9" fill="#ffd000"/>
<rect x="414" y="162" width="9" height="9" fill="#ffc800"/>
<rect x="422" y="162" width="9" height="9" fill="#ffc000"/>
<rect x="430" y="162" width="9" height="9" fill="#ffb900"/>
<rect x="438" y="162" width="17" height="9" fill="#ffb400"/>
<rect x="454" y="162" width="9" height="9" fill="#ffbc00"/>
<rect x="462" y="162" width="9" height="9" fill="#ffca00"/>
<rect x="470" y="162" width="9" height="9" fill="#ffd800"/>
<rect x="478" y="162" width="9" height="9" fill="#ffe100"/>
<rect x="486" y="162" width="9" height="9" fill="#ffe800"/>
<rect x="494" y="162" width="9" height="9" fill="#ffee00"/>
<rect x="502" y="162" width="9" height="9" fill="#ffef00"/>
<rect x="510" y="162" width="9" height="9" fill="#ffe800"/>
<rect x="518" y="162" width="9" height="9" fill="#ffd900"/>
<rect x="526" y="162" width="17" height="9" fill="#ffd800"/>
<rect x="118" y="170" width="9" height="9" fill="#ff6d00"/>
<rect x="126" y="170" width="9" height="9" fill="#ff6e00"/>
<rect x="134" y="170" width="9" height="9" fill="#ff6f00"/>
<rect x="142" y="170" width="9" height="9" fill="#ff7300"/>
<rect x="150" y="170" width="9" height="9" fill="#ff7400"/>
<rect x="158" y="170" width="9" height="9" fill="#ff7200"/>
<rect x="166" y="170" width="9" height="9" fill="#ff6d00"/>
<rect x="174" y="170" width="9" height="9" fill="#ff6700"/>
<rect x="182" y="170" width="9" height="9" fill="#ff6000"/>
<rect x="190" y="170" width="9" height="9" fill="#ff5c00"/>
<rect x="198" y="170" width="9" height="9" fill="#ff5b00"/>
<rect x="206" y="170" width="9" height="9" fill="#ff5f00"/>
<rect x="214" y="170" width="9" height="9" fill="#ff6600"/>
<rect x="222" y="170" width="9" height="9" fill="#ff6c00"/>
<rect x="230" y="170" width="9" height="9" fill="#ff6e00"/>
<rect x="238" y="170" width="17" height="9" fill="#ff6f00"/>
<rect x="254" y="170" width="9" height="9" fill="#ff6c00"/>
<rect x="262" y="170" width="9" height="9" fill="#ff6800"/>
<rect x="270" y="170" width="9" height="9" fill="#ff6400"/>
<rect x="278" y="170" width="9" height="9" fill="#ff6900"/>
<rect x="286" y="170" width="9" height="9" fill="#ff7700"/>
<rect x="294" y="170" width="9" height="9" fill="#ff8900"/>
<rect x="302" y="170" width="9" height="9" fill="#ff9800"/>
<rect x="310" y="170" width="9" height="9" fill="#ffa600"/>
<rect x="318" y="170" width="9" height="9" fill="#ffb400"/>
<rect x="326" y="170" width="9" height="9" fill="#ffc400"/>
<rect x="334" y="170" width="9" height="9" fill="#ffd000"/>
<rect x="342" y="170" width="9" height="9" fill="#ffd600"/>
<rect x="350" y="170" width="9" height="9" fill="#ffd900"/>
<rect x="358" y="170" width="9" height="9" fill="#ffdc00"/>
<rect x="366" y="170" width="9" height="9" fill="#ffe100"/>
<rect x="374" y="170" width="9" height="9" fill="#ffe400"/>
<rect x="382" y="170" width="9" height="9" fill="#ffe500"/>
<rect x="390" y="170" width="9" height="9" fill="#ffe200"/>
<rect x="398" y="170" width="9" height="9" fill="#ffdf00"/>
<rect x="406" y="170" width="9" height="9" fill="#ffda00"/>
<rect x="414" y="170" width="9" height="9" fill="#ffd400"/>
<rect x="422" y="170" width="9" height="9" fill="#ffcc00"/>
<rect x="430" y="170" width="9" height="9" fill="#ffc600"/>
<rect x="438" y="170" width="17" height="9" fill="#ffc200"/>
<rect x="454" y="170" width="9" height="9" fill="#ffc800"/>
<rect x="462" y="170" width="9" height="9" fill="#ffd000"/>
<rect x="470" y="170" width="9" height="9" fill="#ffd700"/>
<rect x="478" y="170" width="9" height="9" fill="#ffda00"/>
<rect x="486" y="170" width="9" height="9" fill="#ffdc00"/>
<rect x="494" y="170" width="9" height="9" fill="#ffde00"/>
<rect x="502" y="170" width="9" height="9" fill="#ffe000"/>
<rect x="510" y="170" width="9" height="9" fill="#ffdb00"/>
<rect x="518" y="170" width="25" height="9" fill="#ffd100"/>
<rect x="118" y="178" width="17" height="9" fill="#ff6a00"/>
<rect x="134" y="178" width="9" height="9" fill="#ff6c00"/>
<rect x="142" y="178" width="17" height="9" fill="#ff7100"/>
<rect x="158" y="178" width="9" height="9" fill="#ff6e00"/>
<rect x="166" y="178" width="9" height="9" fill="#ff6a00"/>
<rect x="174" y="178" width="9" height="9" fill="#ff6400"/>
<rect x="182" y="178" width="9" height="9" fill="#ff5d00"/>
<rect x="190" y="178" width="9" height="9" fill="#ff5600"/>
<rect x="198" y="178" width="9" height="9" fill="#ff5400"/>
<rect x="206" y="178" width="9" height="9" fill="#ff5900"/>
<rect x="214" y="178" width="9" height="9" fill="#ff6200"/>
<rect x="222" y="178" width="9" height="9" fill="#ff6a00"/>
<rect x="230" y="178" width="9" height="9" fill="#ff6c00"/>
<rect x="238" y="178" width="9" height="9" fill="#ff6a00"/>
<rect x="246" y="178" width="9" height="9" fill="#ff6500"/>
<rect x="254" y="178" width="9" height="9" fill="#ff5e00"/>
<rect x="262" y="178" width="9" height="9" fill="#ff5400"/>
<rect x="270" y="178" width="9" height="9" fill="#ff4d00"/>
<rect x="278" y="178" width="9" height="9" fill="#ff5300"/>
<rect x="286" y="178" width="9" height="9" fill="#ff6800"/>
<rect x="294" y="178" width="9" height="9" fill="#ff8200"/>
<rect x="302" y="178" width="9" height="9" fill="#ff9800"/>
<rect x="310" y="178" width="9" height="9" fill="#ffa800"/>
<rect x="318" y="178" width="9" height="9" fill="#ffb600"/>
<rect x="326" y="178" width="9" height="9" fill="#ffc500"/>
<rect x="334" y="178" width="9" height="9" fill="#ffd000"/>
<rect x="342" y="178" width="9" height="9" fill="#ffd500"/>
<rect x="350" y="178" width="9" height="9" fill="#ffd900"/>
<rect x="358" y="178" width="9" height="9" fill="#ffdd00"/>
<rect x="366" y="178" width="9" height="9" fill="#ffe300"/>
<rect x="374" y="178" width="9" height="9" fill="#ffe700"/>
<rect x="382" y="178" width="17" height="9" fill="#ffea00"/>
<rect x="398" y="178" width="9" height="9" fill="#ffe800"/>
<rect x="406" y="178" width="9" height="9" fill="#ffe500"/>
<rect x="414" y="178" width="9" height="9" fill="#ffdf00"/>
<rect x="422" y="178" width="9" height="9" fill="#ffd800"/>
<rect x="430" y="178" width="9" height="9" fill="#ffd300"/>
<rect x="438" y="178" width="17" height="9" fill="#ffd100"/>
<rect x="454" y="178" width="9" height="9" fill="#ffd400"/>
<rect x="462" y="178" width="17" height="9" fill="#ffd700"/>
<rect x="478" y="178" width="9" height="9" fill="#ffd300"/>
<rect x="486" y="178" width="9" height="9" fill="#ffce00"/>
<rect x="494" y="178" width="17" height="9" fill="#ffcd00"/>
<rect x="510" y="178" width="9" height="9" fill="#ffcb00"/>
<rect x="518" y="178" width="25" height="9" fill="#ffc700"/>
<rect x="118" y="186" width="17" height="9" fill="#ff6a00"/>
<rect x="134" y="186" width="9" height="9" fill="#ff6c00"/>
<rect x="142" y="186" width="9" height="9" fill="#ff7000"/>
<rect x="150" y="186" width="9" height="9" fill="#ff7100"/>
<rect x="158" y="186" width="9" height="9" fill="#ff7000"/>
<rect x="166" y="186" width="9" height="9" fill="#ff6c00"/>
<rect x="174" y="186" width="9" height="9" fill="#ff6600"/>
<rect x="182" y="186" width="9" height="9" fill="#ff5e00"/>
<rect x="190" y="186" width="9" height="9" fill="#ff5600"/>
<rect x="198" y="186" width="9" height="9" fill="#ff5200"/>
<rect x="206" y="186" width="9" height="9" fill="#ff5700"/>
<rect x="214" y="186" width="9" height="9" fill="#ff6000"/>
<rect x="222" y="186" width="9" height="9" fill="#ff6700"/>
<rect x="230" y="186" width="9" height="9" fill="#ff6800"/>
<rect x="238" y="186" width="9" height="9" fill="#ff6400"/>
<rect x="246" y="186" width="9" height="9" fill="#ff5d00"/>
<rect x="254" y="186" width="9" height="9" fill="#ff5500"/>
<rect x="262" y="186" width="9" height="9" fill="#ff4d00"/>
<rect x="270" y="186" width="9" height="9" fill="#ff4900"/>
<rect x="278" y="186" width="9" height="9" fill="#ff5100"/>
<rect x="286" y="186" width="9" height="9" fill="#ff6600"/>
<rect x="294" y="186" width="9" height="9" fill="#ff7f00"/>
<rect x="302" y="186" width="9" height="9" fill="#ff9400"/>
<rect x="310" y="186" width="9" height="9" fill="#ffa300"/>
<rect x="318" y="186" width="9" height="9" fill="#ffb100"/>
<rect x="326" y="186" width="9" height="9" fill="#ffc000"/>
<rect x="334" y="186" width="9" height="9" fill="#ffcb00"/>
<rect x="342" y="186" width="9" height="9" fill="#ffd200"/>
<rect x="350" y="186" width="9" height="9" fill="#ffd500"/>
<rect x="358" y="186" width="9" height="9" fill="#ffda00"/>
<rect x="366" y="186" width="9" height="9" fill="#ffe000"/>
<rect x="374" y="186" width="9" height="9" fill="#ffe600"/>
<rect x="382" y="186" width="9" height="9" fill="#ffea00"/>
<rect x="390" y="186" width="9" height="9" fill="#ffec00"/>
<rect x="398" y="186" width="9" height="9" fill="#ffeb00"/>
<rect x="406" y="186" width="9" height="9" fill="#ffe800"/>
<rect x="414" y="186" width="9" height="9" fill="#ffe300"/>
<rect x="422" y="186" width="9" height="9" fill="#ffde00"/>
<rect x="430" y="186" width="9" height="9" fill="#ffdb00"/>
<rect x="438" y="186" width="9" height="9" fill="#ffd900"/>
<rect x="446" y="186" width="9" height="9" fill="#ffd800"/>
<rect x="454" y="186" width="9" height="9" fill="#ffd900"/>
<rect x="462" y="186" width="9" height="9" fill="#ffda00"/>
<rect x="470" y="186" width="9" height="9" fill="#ffd700"/>
<rect x="478" y="186" width="9" height="9" fill="#ffd000"/>
<rect x="486" y="186" width="9" height="9" fill="#ffc900"/>
<rect x="494" y="186" width="9" height="9" fill="#ffc500"/>
<rect x="502" y="186" width="9" height="9" fill="#ffc400"/>
<rect x="510" y="186" width="9" height="9" fill="#ffc500"/>
<rect x="518" y="186" width="25" height="9" fill="#ffc400"/>
<rect x="118" y="194" width="17" height="9" fill="#ff6c00"/>
<rect x="134" y="194" width="9" height="9" fill="#ff6d00"/>
<rect x="142" y="194" width="9" height="9" fill="#ff7000"/>
<rect x="150" y="194" width="9" height="9" fill="#ff7400"/>
<rect x="158" y="194" width="9" height="9" fill="#ff7500"/>
<rect x="166" y="194" width="9" height="9" fill="#ff7300"/>
<rect x="174" y="194" width="9" height="9" fill="#ff6c00"/>
<rect x="182" y="194" width="9" height="9" fill="#ff6300"/>
<rect x="190" y="194" width="9" height="9" fill="#ff5a00"/>
<rect x="198" y="194" width="9" height="9" fill="#ff5600"/>
<rect x="206" y="194" width="9" height="9" fill="#ff5a00"/>
<rect x="214" y="194" width="9" height="9" fill="#ff6200"/>
<rect x="222" y="194" width="9" height="9" fill="#ff6700"/>
<rect x="230" y="194" width="9" height="9" fill="#ff6600"/>
<rect x="238" y="194" width="9" height="9" fill="#ff6100"/>
<rect x="246" y="194" width="9" height="9" fill="#ff5a00"/>
<rect x="254" y="194" width="9" height="9" fill="#ff5600"/>
<rect x="262" y="194" width="9" height="9" fill="#ff5400"/>
<rect x="270" y="194" width="9" height="9" fill="#ff5900"/>
<rect x="278" y="194" width="9" height="9" fill="#ff6300"/>
<rect x="286" y="194" width="9" height="9" fill="#ff7200"/>
<rect x="294" y="194" width="9" height="9" fill="#ff8200"/>
<rect x="302" y="194" width="9" height="9" fill="#ff9000"/>
<rect x="310" y="194" width="9" height="9" fill="#ff9b00"/>
<rect x="318" y="194" width="9" height="9" fill="#ffa800"/>
<rect x="326" y="194" width="9" height="9" fill="#ffb800"/>
<rect x="334" y="194" width="9" height="9" fill="#ffc500"/>
<rect x="342" y="194" width="9" height="9" fill="#ffcc00"/>
<rect x="350" y="194" width="9" height="9" fill="#ffd000"/>
<rect x="358" y="194" width="9" height="9" fill="#ffd400"/>
<rect x="366" y="194" width="9" height="9" fill="#ffda00"/>
<rect x="374" y="194" width="9" height="9" fill="#ffe100"/>
<rect x="382" y="194" width="9" height="9" fill="#ffe700"/>
<rect x="390" y="194" width="9" height="9" fill="#ffeb00"/>
<rect x="398" y="194" width="9" height="9" fill="#ffe900"/>
<rect x="406" y="194" width="9" height="9" fill="#ffe500"/>
<rect x="414" y="194" width="9" height="9" fill="#ffe200"/>
<rect x="422" y="194" width="9" height="9" fill="#ffdf00"/>
<rect x="430" y="194" width="9" height="9" fill="#ffde00"/>
<rect x="438" y="194" width="9" height="9" fill="#ffdc00"/>
<rect x="446" y="194" width="25" height="9" fill="#ffda00"/>
<rect x="470" y="194" width="9" height="9" fill="#ffd700"/>
<rect x="478" y="194" width="9" height="9" fill="#ffd000"/>
<rect x="486" y="194" width="9" height="9" fill="#ffc900"/>
<rect x="494" y="194" width="9" height="9" fill="#ffc500"/>
<rect x="502" y="194" width="17" height="9" fill="#ffc300"/>
<rect x="518" y="194" width="9" height="9" fill="#ffc200"/>
<rect x="526" y="194" width="17" height="9" fill="#ffc100"/>
<rect x="118" y="202" width="17" height="9" fill="#ff6c00"/>
<rect x="134" y="202" width="9" height="9" fill="#ff6d00"/>
<rect x="142" y="202" width="9" height="9" fill="#ff7200"/>
<rect x="150" y="202" width="9" height="9" fill="#ff7700"/>
<rect x="158" y="202" width="9" height="9" fill="#ff7a00"/>
<rect x="166" y="202" width="9" height="9" fill="#ff7800"/>
<rect x="174" y="202" width="9" height="9" fill="#ff7000"/>
<rect x="182" y="202" width="9" height="9" fill="#ff6600"/>
<rect x="190" y="202" width="9" height="9" fill="#ff5d00"/>
<rect x="198" y="202" width="9" height="9" fill="#ff5900"/>
<rect x="206" y="202" width="9" height="9" fill="#ff5d00"/>
<rect x="214" y="202" width="9" height="9" fill="#ff6500"/>
<rect x="222" y="202" width="9" height="9" fill="#ff6a00"/>
<rect x="230" y="202" width="9" height="9" fill="#ff6900"/>
<rect x="238" y="202" width="9" height="9" fill="#ff6500"/>
<rect x="246" y="202" width="17" height="9" fill="#ff6200"/>
<rect x="262" y="202" width="9" height="9" fill="#ff6600"/>
<rect x="270" y="202" width="9" height="9" fill="#ff6f00"/>
<rect x="278" y="202" width="9" height="9" fill="#ff7900"/>
<rect x="286" y="202" width="9" height="9" fill="#ff8400"/>
<rect x="294" y="202" width="9" height="9" fill="#ff8d00"/>
<rect x="302" y="202" width="9" height="9" fill="#ff9500"/>
<rect x="310" y="202" width="9" height="9" fill="#ff9c00"/>
<rect x="318" y="202" width="9" height="9" fill="#ffa700"/>
<rect x="326" y="202" width="9" height="9" fill="#ffb400"/>
<rect x="334" y="202" width="9" height="9" fill="#ffc000"/>
<rect x="342" y="202" width="9" height="9" fill="#ffc700"/>
<rect x="350" y="202" width="9" height="9" fill="#ffcc00"/>
<rect x="358" y="202" width="9" height="9" fill="#ffd000"/>
<rect x="366" y="202" width="9" height="9" fill="#ffd700"/>
<rect x="374" y="202" width="9" height="9" fill="#ffde00"/>
<rect x="382" y="202" width="9" height="9" fill="#ffe500"/>
<rect x="390" y="202" width="9" height="9" fill="#ffe900"/>
<rect x="398" y="202" width="9" height="9" fill="#ffe800"/>
<rect x="406" y="202" width="9" height="9" fill="#ffe400"/>
<rect x="414" y="202" width="9" height="9" fill="#ffe200"/>
<rect x="422" y="202" width="9" height="9" fill="#ffe100"/>
<rect x="430" y="202" width="9" height="9" fill="#ffe200"/>
<rect x="438" y="202" width="9" height="9" fill="#ffe100"/>
<rect x="446" y="202" width="9" height="9" fill="#ffe000"/>
<rect x="454" y="202" width="9" height="9" fill="#ffde00"/>
<rect x="462" y="202" width="9" height="9" fill="#ffdb00"/>
<rect x="470" y="202" width="9" height="9" fill="#ffd600"/>
<rect x="478" y="202" width="9" height="9" fill="#ffd000"/>
<rect x="486" y="202" width="9" height="9" fill="#ffc900"/>
<rect x="494" y="202" width="9" height="9" fill="#ffc400"/>
<rect x="502" y="202" width="9" height="9" fill="#ffbf00"/>
<rect x="510" y="202" width="9" height="9" fill="#ffb900"/>
<rect x="518" y="202" width="25" height="9" fill="#ffb000"/>
<rect x="118" y="210" width="17" height="9" fill="#ff6a00"/>
<rect x="134" y="210" width="9" height="9" fill="#ff6c00"/>
<rect x="142" y="210" width="9" height="9" fill="#ff7300"/>
<rect x="150" y="210" width="9" height="9" fill="#ff7a00"/>
<rect x="158" y="210" width="9" height="9" fill="#ff7d00"/>
<rect x="166" y="210" width="9" height="9" fill="#ff7900"/>
<rect x="174" y="210" width="9" height="9" fill="#ff7000"/>
<rect x="182" y="210" width="9" height="9" fill="#ff6600"/>
<rect x="190" y="210" width="9" height="9" fill="#ff5d00"/>
<rect x="198" y="210" width="9" height="9" fill="#ff5a00"/>
<rect x="206" y="210" width="9" height="9" fill="#ff5f00"/>
<rect x="214" y="210" width="9" height="9" fill="#ff6900"/>
<rect x="222" y="210" width="9" height="9" fill="#ff6f00"/>
<rect x="230" y="210" width="17" height="9" fill="#ff7200"/>
<rect x="246" y="210" width="9" height="9" fill="#ff7400"/>
<rect x="254" y="210" width="9" height="9" fill="#ff7700"/>
<rect x="262" y="210" width="9" height="9" fill="#ff7c00"/>
<rect x="270" y="210" width="9" height="9" fill="#ff8300"/>
<rect x="278" y="210" width="9" height="9" fill="#ff8c00"/>
<rect x="286" y="210" width="9" height="9" fill="#ff9500"/>
<rect x="294" y="210" width="9" height="9" fill="#ff9e00"/>
<rect x="302" y="210" width="9" height="9" fill="#ffa400"/>
<rect x="310" y="210" width="9" height="9" fill="#ffa900"/>
<rect x="318" y="210" width="9" height="9" fill="#ffaf00"/>
<rect x="326" y="210" width="9" height="9" fill="#ffb600"/>
<rect x="334" y="210" width="9" height="9" fill="#ffbd00"/>
<rect x="342" y="210" width="9" height="9" fill="#ffc400"/>
<rect x="350" y="210" width="9" height="9" fill="#ffca00"/>
<rect x="358" y="210" width="9" height="9" fill="#ffd000"/>
<rect x="366" y="210" width="9" height="9" fill="#ffd700"/>
<rect x="374" y="210" width="9" height="9" fill="#ffdd00"/>
<rect x="382" y="210" width="9" height="9" fill="#ffe300"/>
<rect x="390" y="210" width="9" height="9" fill="#ffe700"/>
<rect x="398" y="210" width="9" height="9" fill="#ffe800"/>
<rect x="406" y="210" width="9" height="9" fill="#ffe700"/>
<rect x="414" y="210" width="9" height="9" fill="#ffe500"/>
<rect x="422" y="210" width="9" height="9" fill="#ffe600"/>
<rect x="430" y="210" width="9" height="9" fill="#ffe800"/>
<rect x="438" y="210" width="9" height="9" fill="#ffea00"/>
<rect x="446" y="210" width="9" height="9" fill="#ffeb00"/>
<rect x="454" y="210" width="9" height="9" fill="#ffe800"/>
<rect x="462" y="210" width="9" height="9" fill="#ffe000"/>
<rect x="470" y="210" width="9" height="9" fill="#ffd600"/>
<rect x="478" y="210" width="9" height="9" fill="#ffcc00"/>
<rect x="486" y="210" width="9" height="9" fill="#ffc400"/>
<rect x="494" y="210" width="9" height="9" fill="#ffbc00"/>
<rect x="502" y="210" width="9" height="9" fill="#ffb100"/>
<rect x="510" y="210" width="9" height="9" fill="#ffa100"/>
<rect x="518" y="210" width="9" height="9" fill="#ff8b00"/>
<rect x="526" y="210" width="17" height="9" fill="#ff8a00"/>
<rect x="118" y="218" width="17" height="9" fill="#ff6c00"/>
<rect x="134" y="218" width="9" height="9" fill="#ff6f00"/>
<rect x="142" y="218" width="9" height="9" fill="#ff7700"/>
<rect x="150" y="218" width="9" height="9" fill="#ff7e00"/>
<rect x="158" y="218" width="9" height="9" fill="#ff7f00"/>
<rect x="166" y="218" width="9" height="9" fill="#ff7a00"/>
<rect x="174" y="218" width="9" height="9" fill="#ff7100"/>
<rect x="182" y="218" width="9" height="9" fill="#ff6600"/>
<rect x="190" y="218" width="9" height="9" fill="#ff5e00"/>
<rect x="198" y="218" width="9" height="9" fill="#ff5c00"/>
<rect x="206" y="218" width="9" height="9" fill="#ff6200"/>
<rect x="214" y="218" width="9" height="9" fill="#ff6d00"/>
<rect x="222" y="218" width="9" height="9" fill="#ff7600"/>
<rect x="230" y="218" width="9" height="9" fill="#ff7c00"/>
<rect x="238" y="218" width="9" height="9" fill="#ff8000"/>
<rect x="246" y="218" width="9" height="9" fill="#ff8500"/>
<rect x="254" y="218" width="9" height="9" fill="#ff8900"/>
<rect x="262" y="218" width="9" height="9" fill="#ff8d00"/>
<rect x="270" y="218" width="9" height="9" fill="#ff9000"/>
<rect x="278" y="218" width="9" height="9" fill="#ff9600"/>
<rect x="286" y="218" width="9" height="9" fill="#ffa000"/>
<rect x="294" y="218" width="9" height="9" fill="#ffaa00"/>
<rect x="302" y="218" width="9" height="9" fill="#ffb100"/>
<rect x="310" y="218" width="9" height="9" fill="#ffb400"/>
<rect x="318" y="218" width="9" height="9" fill="#ffb600"/>
<rect x="326" y="218" width="9" height="9" fill="#ffb900"/>
<rect x="334" y="218" width="9" height="9" fill="#ffbd00"/>
<rect x="342" y="218" width="9" height="9" fill="#ffc300"/>
<rect x="350" y="218" width="9" height="9" fill="#ffca00"/>
<rect x="358" y="218" width="9" height="9" fill="#ffd100"/>
<rect x="366" y="218" width="9" height="9" fill="#ffd700"/>
<rect x="374" y="218" width="9" height="9" fill="#ffdb00"/>
<rect x="382" y="218" width="9" height="9" fill="#ffe000"/>
<rect x="390" y="218" width="9" height="9" fill="#ffe300"/>
<rect x="398" y="218" width="9" height="9" fill="#ffe400"/>
<rect x="406" y="218" width="17" height="9" fill="#ffe500"/>
<rect x="422" y="218" width="9" height="9" fill="#ffe600"/>
<rect x="430" y="218" width="9" height="9" fill="#ffe800"/>
<rect x="438" y="218" width="9" height="9" fill="#ffef00"/>
<rect x="446" y="218" width="9" height="9" fill="#fff300"/>
<rect x="454" y="218" width="9" height="9" fill="#fff100"/>
<rect x="462" y="218" width="9" height="9" fill="#ffe600"/>
<rect x="470" y="218" width="9" height="9" fill="#ffd700"/>
<rect x="478" y="218" width="9" height="9" fill="#ffca00"/>
<rect x="486" y="218" width="9" height="9" fill="#ffbd00"/>
<rect x="494" y="218" width="9" height="9" fill="#ffb100"/>
<rect x="502" y="218" width="9" height="9" fill="#ffa100"/>
<rect x="510" y="218" width="9" height="9" fill="#ff8900"/>
<rect x="518" y="218" width="9" height="9" fill="#ff6800"/>
<rect x="526" y="218" width="17" height="9" fill="#ff6700"/>
<rect x="118" y="226" width="17" height="9" fill="#ff7500"/>
<rect x="134" y="226" width="9" height="9" fill="#ff7800"/>
<rect x="142" y="226" width="9" height="9" fill="#ff7e00"/>
<rect x="150" y="226" width="9" height="9" fill="#ff8300"/>
<rect x="158" y="226" width="9" height="9" fill="#ff8400"/>
<rect x="166" y="226" width="9" height="9" fill="#ff7f00"/>
<rect x="174" y="226" width="9" height="9" fill="#ff7700"/>
<rect x="182" y="226" width="9" height="9" fill="#ff6d00"/>
<rect x="190" y="226" width="9" height="9" fill="#ff6600"/>
<rect x="198" y="226" width="9" height="9" fill="#ff6300"/>
<rect x="206" y="226" width="9" height="9" fill="#ff6800"/>
<rect x="214" y="226" width="9" height="9" fill="#ff7200"/>
<rect x="222" y="226" width="9" height="9" fill="#ff7b00"/>
<rect x="230" y="226" width="9" height="9" fill="#ff8000"/>
<rect x="238" y="226" width="9" height="9" fill="#ff8500"/>
<rect x="246" y="226" width="9" height="9" fill="#ff8b00"/>
<rect x="254" y="226" width="9" height="9" fill="#ff9000"/>
<rect x="262" y="226" width="9" height="9" fill="#ff9200"/>
<rect x="270" y="226" width="9" height="9" fill="#ff9300"/>
<rect x="278" y="226" width="9" height="9" fill="#ff9700"/>
<rect x="286" y="226" width="9" height="9" fill="#ffa000"/>
<rect x="294" y="226" width="9" height="9" fill="#ffa900"/>
<rect x="302" y="226" width="9" height="9" fill="#ffac00"/>
<rect x="310" y="226" width="9" height="9" fill="#ffad00"/>
<rect x="318" y="226" width="9" height="9" fill="#ffaf00"/>
<rect x="326" y="226" width="9" height="9" fill="#ffb600"/>
<rect x="334" y="226" width="9" height="9" fill="#ffbe00"/>
<rect x="342" y="226" width="9" height="9" fill="#ffc400"/>
<rect x="350" y="226" width="9" height="9" fill="#ffca00"/>
<rect x="358" y="226" width="9" height="9" fill="#ffce00"/>
<rect x="366" y="226" width="9" height="9" fill="#ffd100"/>
<rect x="374" y="226" width="9" height="9" fill="#ffd300"/>
<rect x="382" y="226" width="9" height="9" fill="#ffd600"/>
<rect x="390" y="226" width="9" height="9" fill="#ffd800"/>
<rect x="398" y="226" width="33" height="9" fill="#ffd900"/>
<rect x="430" y="226" width="9" height="9" fill="#ffdd00"/>
<rect x="438" y="226" width="9" height="9" fill="#ffe600"/>
<rect x="446" y="226" width="9" height="9" fill="#ffef00"/>
<rect x="454" y="226" width="9" height="9" fill="#fff000"/>
<rect x="462" y="226" width="9" height="9" fill="#ffe900"/>
<rect x="470" y="226" width="9" height="9" fill="#ffdb00"/>
<rect x="478" y="226" width="9" height="9" fill="#ffcb00"/>
<rect x="486" y="226" width="9" height="9" fill="#ffb900"/>
<rect x="494" y="226" width="9" height="9" fill="#ffa800"/>
<rect x="502" y="226" width="9" height="9" fill="#ff9600"/>
<rect x="510" y="226" width="9" height="9" fill="#ff7d00"/>
<rect x="518" y="226" width="9" height="9" fill="#ff5b00"/>
<rect x="526" y="226" width="17" height="9" fill="#ff5a00"/>
<rect x="118" y="234" width="25" height="9" fill="#ff8400"/>
<rect x="142" y="234" width="9" height="9" fill="#ff8600"/>
<rect x="150" y="234" width="9" height="9" fill="#ff8700"/>
<rect x="158" y="234" width="9" height="9" fill="#ff8600"/>
<rect x="166" y="234" width="9" height="9" fill="#ff8200"/>
<rect x="174" y="234" width="9" height="9" fill="#ff7c00"/>
<rect x="182" y="234" width="9" height="9" fill="#ff7600"/>
<rect x="190" y="234" width="9" height="9" fill="#ff6f00"/>
<rect x="198" y="234" width="9" height="9" fill="#ff6c00"/>
<rect x="206" y="234" width="9" height="9" fill="#ff7000"/>
<rect x="214" y="234" width="9" height="9" fill="#ff7700"/>
<rect x="222" y="234" width="9" height="9" fill="#ff7d00"/>
<rect x="230" y="234" width="9" height="9" fill="#ff8000"/>
<rect x="238" y="234" width="9" height="9" fill="#ff8300"/>
<rect x="246" y="234" width="9" height="9" fill="#ff8700"/>
<rect x="254" y="234" width="9" height="9" fill="#ff8b00"/>
<rect x="262" y="234" width="9" height="9" fill="#ff8d00"/>
<rect x="270" y="234" width="9" height="9" fill="#ff8e00"/>
<rect x="278" y="234" width="9" height="9" fill="#ff9100"/>
<rect x="286" y="234" width="9" height="9" fill="#ff9800"/>
<rect x="294" y="234" width="17" height="9" fill="#ff9e00"/>
<rect x="310" y="234" width="9" height="9" fill="#ff9c00"/>
<rect x="318" y="234" width="9" height="9" fill="#ffa100"/>
<rect x="326" y="234" width="9" height="9" fill="#ffaf00"/>
<rect x="334" y="234" width="9" height="9" fill="#ffbe00"/>
<rect x="342" y="234" width="9" height="9" fill="#ffc500"/>
<rect x="350" y="234" width="9" height="9" fill="#ffc600"/>
<rect x="358" y="234" width="9" height="9" fill="#ffc500"/>
<rect x="366" y="234" width="25" height="9" fill="#ffc400"/>
<rect x="390" y="234" width="9" height="9" fill="#ffc500"/>
<rect x="398" y="234" width="9" height="9" fill="#ffc400"/>
<rect x="406" y="234" width="17" height="9" fill="#ffc200"/>
<rect x="422" y="234" width="9" height="9" fill="#ffc400"/>
<rect x="430" y="234" width="9" height="9" fill="#ffca00"/>
<rect x="438" y="234" width="9" height="9" fill="#ffd400"/>
<rect x="446" y="234" width="9" height="9" fill="#ffdf00"/>
<rect x="454" y="234" width="17" height="9" fill="#ffe700"/>
<rect x="470" y="234" width="9" height="9" fill="#ffde00"/>
<rect x="478" y="234" width="9" height="9" fill="#ffcc00"/>
<rect x="486" y="234" width="9" height="9" fill="#ffb600"/>
<rect x="494" y="234" width="9" height="9" fill="#ffa100"/>
<rect x="502" y="234" width="9" height="9" fill="#ff8e00"/>
<rect x="510" y="234" width="9" height="9" fill="#ff7800"/>
<rect x="518" y="234" width="9" height="9" fill="#ff5e00"/>
<rect x="526" y="234" width="17" height="9" fill="#ff5c00"/>
<rect x="118" y="242" width="25" height="9" fill="#ff9000"/>
<rect x="142" y="242" width="9" height="9" fill="#ff8c00"/>
<rect x="150" y="242" width="9" height="9" fill="#ff8400"/>
<rect x="158" y="242" width="9" height="9" fill="#ff7c00"/>
<rect x="166" y="242" width="9" height="9" fill="#ff7800"/>
<rect x="174" y="242" width="9" height="9" fill="#ff7600"/>
<rect x="182" y="242" width="9" height="9" fill="#ff7500"/>
<rect x="190" y="242" width="9" height="9" fill="#ff7300"/>
<rect x="198" y="242" width="9" height="9" fill="#ff7200"/>
<rect x="206" y="242" width="9" height="9" fill="#ff7500"/>
<rect x="214" y="242" width="9" height="9" fill="#ff7a00"/>
<rect x="222" y="242" width="9" height="9" fill="#ff7e00"/>
<rect x="230" y="242" width="9" height="9" fill="#ff7f00"/>
<rect x="238" y="242" width="9" height="9" fill="#ff8000"/>
<rect x="246" y="242" width="9" height="9" fill="#ff8200"/>
<rect x="254" y="242" width="9" height="9" fill="#ff8400"/>
<rect x="262" y="242" width="17" height="9" fill="#ff8500"/>
<rect x="278" y="242" width="9" height="9" fill="#ff8900"/>
<rect x="286" y="242" width="9" height="9" fill="#ff9100"/>
<rect x="294" y="242" width="9" height="9" fill="#ff9600"/>
<rect x="302" y="242" width="9" height="9" fill="#ff9500"/>
<rect x="310" y="242" width="9" height="9" fill="#ff9200"/>
<rect x="318" y="242" width="9" height="9" fill="#ff9900"/>
<rect x="326" y="242" width="9" height="9" fill="#ffab00"/>
<rect x="334" y="242" width="9" height="9" fill="#ffbc00"/>
<rect x="342" y="242" width="9" height="9" fill="#ffc000"/>
<rect x="350" y="242" width="9" height="9" fill="#ffbc00"/>
<rect x="358" y="242" width="9" height="9" fill="#ffb600"/>
<rect x="366" y="242" width="9" height="9" fill="#ffb300"/>
<rect x="374" y="242" width="9" height="9" fill="#ffb000"/>
<rect x="382" y="242" width="9" height="9" fill="#ffad00"/>
<rect x="390" y="242" width="9" height="9" fill="#ffaa00"/>
<rect x="398" y="242" width="9" height="9" fill="#ffa700"/>
<rect x="406" y="242" width="9" height="9" fill="#ffa600"/>
<rect x="414" y="242" width="9" height="9" fill="#ffa900"/>
<rect x="422" y="242" width="9" height="9" fill="#ffae00"/>
<rect x="430" y="242" width="9" height="9" fill="#ffb700"/>
<rect x="438" y="242" width="9" height="9" fill="#ffc200"/>
<rect x="446" y="242" width="9" height="9" fill="#ffcf00"/>
<rect x="454" y="242" width="9" height="9" fill="#ffd900"/>
<rect x="462" y="242" width="9" height="9" fill="#ffde00"/>
<rect x="470" y="242" width="9" height="9" fill="#ffd900"/>
<rect x="478" y="242" width="9" height="9" fill="#ffc800"/>
<rect x="486" y="242" width="9" height="9" fill="#ffb000"/>
<rect x="494" y="242" width="9" height="9" fill="#ff9900"/>
<rect x="502" y="242" width="9" height="9" fill="#ff8500"/>
<rect x="510" y="242" width="9" height="9" fill="#ff7100"/>
<rect x="518" y="242" width="9" height="9" fill="#ff5c00"/>
<rect x="526" y="242" width="17" height="9" fill="#ff5a00"/>
<rect x="118" y="250" width="25" height="9" fill="#ff9600"/>
<rect x="142" y="250" width="9" height="9" fill="#ff8d00"/>
<rect x="150" y="250" width="9" height="9" fill="#ff7a00"/>
<rect x="158" y="250" width="9" height="9" fill="#ff6800"/>
<rect x="166" y="250" width="9" height="9" fill="#ff6000"/>
<rect x="174" y="250" width="9" height="9" fill="#ff6200"/>
<rect x="182" y="250" width="9" height="9" fill="#ff6700"/>
<rect x="190" y="250" width="9" height="9" fill="#ff6c00"/>
<rect x="198" y="250" width="9" height="9" fill="#ff7100"/>
<rect x="206" y="250" width="9" height="9" fill="#ff7500"/>
<rect x="214" y="250" width="9" height="9" fill="#ff7900"/>
<rect x="222" y="250" width="9" height="9" fill="#ff7b00"/>
<rect x="230" y="250" width="9" height="9" fill="#ff7d00"/>
<rect x="238" y="250" width="9" height="9" fill="#ff7e00"/>
<rect x="246" y="250" width="9" height="9" fill="#ff7f00"/>
<rect x="254" y="250" width="9" height="9" fill="#ff7e00"/>
<rect x="262" y="250" width="17" height="9" fill="#ff7d00"/>
<rect x="278" y="250" width="9" height="9" fill="#ff8100"/>
<rect x="286" y="250" width="9" height="9" fill="#ff8c00"/>
<rect x="294" y="250" width="9" height="9" fill="#ff9500"/>
<rect x="302" y="250" width="9" height="9" fill="#ff9600"/>
<rect x="310" y="250" width="9" height="9" fill="#ff9400"/>
<rect x="318" y="250" width="9" height="9" fill="#ff9a00"/>
<rect x="326" y="250" width="9" height="9" fill="#ffaa00"/>
<rect x="334" y="250" width="9" height="9" fill="#ffb600"/>
<rect x="342" y="250" width="9" height="9" fill="#ffb400"/>
<rect x="350" y="250" width="9" height="9" fill="#ffab00"/>
<rect x="358" y="250" width="9" height="9" fill="#ffa300"/>
<rect x="366" y="250" width="9" height="9" fill="#ffa000"/>
<rect x="374" y="250" width="9" height="9" fill="#ff9d00"/>
<rect x="382" y="250" width="9" height="9" fill="#ff9500"/>
<rect x="390" y="250" width="9" height="9" fill="#ff8c00"/>
<rect x="398" y="250" width="9" height="9" fill="#ff8900"/>
<rect x="406" y="250" width="9" height="9" fill="#ff8c00"/>
<rect x="414" y="250" width="9" height="9" fill="#ff9300"/>
<rect x="422" y="250" width="9" height="9" fill="#ff9d00"/>
<rect x="430" y="250" width="9" height="9" fill="#ffa900"/>
<rect x="438" y="250" width="9" height="9" fill="#ffb500"/>
<rect x="446" y="250" width="9" height="9" fill="#ffc100"/>
<rect x="454" y="250" width="9" height="9" fill="#ffcb00"/>
<rect x="462" y="250" width="9" height="9" fill="#ffcf00"/>
<rect x="470" y="250" width="9" height="9" fill="#ffcb00"/>
<rect x="478" y="250" width="9" height="9" fill="#ffbd00"/>
<rect x="486" y="250" width="9" height="9" fill="#ffa800"/>
<rect x="494" y="250" width="9" height="9" fill="#ff9100"/>
<rect x="502" y="250" width="9" height="9" fill="#ff7b00"/>
<rect x="510" y="250" width="9" height="9" fill="#ff6500"/>
<rect x="518" y="250" width="9" height="9" fill="#ff4f00"/>
<rect x="526" y="250" width="17" height="9" fill="#ff4d00"/>
<rect x="118" y="258" width="17" height="9" fill="#ff9500"/>
<rect x="134" y="258" width="9" height="9" fill="#ff9700"/>
<rect x="142" y="258" width="9" height="9" fill="#ff8b00"/>
<rect x="150" y="258" width="9" height="9" fill="#ff7200"/>
<rect x="158" y="258" width="9" height="9" fill="#ff5800"/>
<rect x="166" y="258" width="9" height="9" fill="#ff4b00"/>
<rect x="174" y="258" width="9" height="9" fill="#ff4c00"/>
<rect x="182" y="258" width="9" height="9" fill="#ff5300"/>
<rect x="190" y="258" width="9" height="9" fill="#ff5d00"/>
<rect x="198" y="258" width="9" height="9" fill="#ff6600"/>
<rect x="206" y="258" width="9" height="9" fill="#ff6c00"/>
<rect x="214" y="258" width="9" height="9" fill="#ff7000"/>
<rect x="222" y="258" width="9" height="9" fill="#ff7200"/>
<rect x="230" y="258" width="9" height="9" fill="#ff7400"/>
<rect x="238" y="258" width="9" height="9" fill="#ff7600"/>
<rect x="246" y="258" width="33" height="9" fill="#ff7700"/>
<rect x="278" y="258" width="9" height="9" fill="#ff7d00"/>
<rect x="286" y="258" width="9" height="9" fill="#ff8700"/>
<rect x="294" y="258" width="9" height="9" fill="#ff9000"/>
<rect x="302" y="258" width="17" height="9" fill="#ff9300"/>
<rect x="318" y="258" width="9" height="9" fill="#ff9900"/>
<rect x="326" y="258" width="9" height="9" fill="#ffa500"/>
<rect x="334" y="258" width="9" height="9" fill="#ffac00"/>
<rect x="342" y="258" width="9" height="9" fill="#ffa700"/>
<rect x="350" y="258" width="9" height="9" fill="#ff9c00"/>
<rect x="358" y="258" width="9" height="9" fill="#ff9500"/>
<rect x="366" y="258" width="9" height="9" fill="#ff9400"/>
<rect x="374" y="258" width="9" height="9" fill="#ff9100"/>
<rect x="382" y="258" width="9" height="9" fill="#ff8500"/>
<rect x="390" y="258" width="9" height="9" fill="#ff7800"/>
<rect x="398" y="258" width="9" height="9" fill="#ff7500"/>
<rect x="406" y="258" width="9" height="9" fill="#ff7c00"/>
<rect x="414" y="258" width="9" height="9" fill="#ff8800"/>
<rect x="422" y="258" width="9" height="9" fill="#ff9400"/>
<rect x="430" y="258" width="9" height="9" fill="#ffa000"/>
<rect x="438" y="258" width="9" height="9" fill="#ffaa00"/>
<rect x="446" y="258" width="9" height="9" fill="#ffb300"/>
<rect x="454" y="258" width="9" height="9" fill="#ffb900"/>
<rect x="462" y="258" width="9" height="9" fill="#ffbb00"/>
<rect x="470" y="258" width="9" height="9" fill="#ffb900"/>
<rect x="478" y="258" width="9" height="9" fill="#ffaf00"/>
<rect x="486" y="258" width="9" height="9" fill="#ffa000"/>
<rect x="494" y="258" width="9" height="9" fill="#ff8d00"/>
<rect x="502" y="258" width="9" height="9" fill="#ff7600"/>
<rect x="510" y="258" width="9" height="9" fill="#ff5e00"/>
<rect x="518" y="258" width="9" height="9" fill="#ff4700"/>
<rect x="526" y="258" width="9" height="9" fill="#ff4500"/>
<rect x="534" y="258" width="9" height="9" fill="#ff4400"/>
<rect x="118" y="266" width="17" height="9" fill="#ff8f00"/>
<rect x="134" y="266" width="9" height="9" fill="#ff9100"/>
<rect x="142" y="266" width="9" height="9" fill="#ff8a00"/>
<rect x="150" y="266" width="9" height="9" fill="#ff7400"/>
<rect x="158" y="266" width="9" height="9" fill="#ff5b00"/>
<rect x="166" y="266" width="9" height="9" fill="#ff4a00"/>
<rect x="174" y="266" width="9" height="9" fill="#ff4200"/>
<rect x="182" y="266" width="9" height="9" fill="#ff4100"/>
<rect x="190" y="266" width="9" height="9" fill="#ff4700"/>
<rect x="198" y="266" width="9" height="9" fill="#ff5100"/>
<rect x="206" y="266" width="9" height="9" fill="#ff5900"/>
<rect x="214" y="266" width="9" height="9" fill="#ff5e00"/>
<rect x="222" y="266" width="17" height="9" fill="#ff6000"/>
<rect x="238" y="266" width="9" height="9" fill="#ff6100"/>
<rect x="246" y="266" width="9" height="9" fill="#ff6600"/>
<rect x="254" y="266" width="9" height="9" fill="#ff6c00"/>
<rect x="262" y="266" width="9" height="9" fill="#ff7200"/>
<rect x="270" y="266" width="9" height="9" fill="#ff7800"/>
<rect x="278" y="266" width="9" height="9" fill="#ff7c00"/>
<rect x="286" y="266" width="9" height="9" fill="#ff7e00"/>
<rect x="294" y="266" width="9" height="9" fill="#ff7f00"/>
<rect x="302" y="266" width="9" height="9" fill="#ff7e00"/>
<rect x="310" y="266" width="9" height="9" fill="#ff8000"/>
<rect x="318" y="266" width="9" height="9" fill="#ff8800"/>
<rect x="326" y="266" width="9" height="9" fill="#ff9600"/>
<rect x="334" y="266" width="9" height="9" fill="#ffa000"/>
<rect x="342" y="266" width="9" height="9" fill="#ff9f00"/>
<rect x="350" y="266" width="9" height="9" fill="#ff9700"/>
<rect x="358" y="266" width="9" height="9" fill="#ff9400"/>
<rect x="366" y="266" width="9" height="9" fill="#ff9600"/>
<rect x="374" y="266" width="9" height="9" fill="#ff9200"/>
<rect x="382" y="266" width="9" height="9" fill="#ff8600"/>
<rect x="390" y="266" width="9" height="9" fill="#ff7800"/>
<rect x="398" y="266" width="9" height="9" fill="#ff7500"/>
<rect x="406" y="266" width="9" height="9" fill="#ff7d00"/>
<rect x="414" y="266" width="9" height="9" fill="#ff8a00"/>
<rect x="422" y="266" width="9" height="9" fill="#ff9500"/>
<rect x="430" y="266" width="9" height="9" fill="#ff9c00"/>
<rect x="438" y="266" width="9" height="9" fill="#ff9e00"/>
<rect x="446" y="266" width="9" height="9" fill="#ff9f00"/>
<rect x="454" y="266" width="9" height="9" fill="#ffa000"/>
<rect x="462" y="266" width="9" height="9" fill="#ffa500"/>
<rect x="470" y="266" width="9" height="9" fill="#ffa700"/>
<rect x="478" y="266" width="9" height="9" fill="#ffa400"/>
<rect x="486" y="266" width="9" height="9" fill="#ff9c00"/>
<rect x="494" y="266" width="9" height="9" fill="#ff8e00"/>
<rect x="502" y="266" width="9" height="9" fill="#ff7c00"/>
<rect x="510" y="266" width="9" height="9" fill="#ff6800"/>
<rect x="518" y="266" width="9" height="9" fill="#ff5600"/>
<rect x="526" y="266" width="17" height="9" fill="#ff5300"/>
<rect x="118" y="274" width="17" height="9" fill="#ff8c00"/>
<rect x="134" y="274" width="9" height="9" fill="#ff8f00"/>
<rect x="142" y="274" width="9" height="9" fill="#ff8c00"/>
<rect x="150" y="274" width="9" height="9" fill="#ff7d00"/>
<rect x="158" y="274" width="9" height="9" fill="#ff6900"/>
<rect x="166" y="274" width="9" height="9" fill="#ff5400"/>
<rect x="174" y="274" width="9" height="9" fill="#ff3f00"/>
<rect x="182" y="274" width="9" height="9" fill="#ff2c00"/>
<rect x="190" y="274" width="9" height="9" fill="#ff3600"/>
<rect x="198" y="274" width="9" height="9" fill="#ff4000"/>
<rect x="206" y="274" width="9" height="9" fill="#ff4800"/>
<rect x="214" y="274" width="9" height="9" fill="#ff4f00"/>
<rect x="222" y="274" width="9" height="9" fill="#ff5000"/>
<rect x="230" y="274" width="17" height="9" fill="#ff4d00"/>
<rect x="246" y="274" width="9" height="9" fill="#ff5500"/>
<rect x="254" y="274" width="9" height="9" fill="#ff6200"/>
<rect x="262" y="274" width="9" height="9" fill="#ff7100"/>
<rect x="270" y="274" width="9" height="9" fill="#ff7d00"/>
<rect x="278" y="274" width="9" height="9" fill="#ff7f00"/>
<rect x="286" y="274" width="9" height="9" fill="#ff7700"/>
<rect x="294" y="274" width="9" height="9" fill="#ff6c00"/>
<rect x="302" y="274" width="9" height="9" fill="#ff6600"/>
<rect x="310" y="274" width="9" height="9" fill="#ff6900"/>
<rect x="318" y="274" width="9" height="9" fill="#ff7500"/>
<rect x="326" y="274" width="9" height="9" fill="#ff8700"/>
<rect x="334" y="274" width="9" height="9" fill="#ff9600"/>
<rect x="342" y="274" width="25" height="9" fill="#ff9b00"/>
<rect x="366" y="274" width="9" height="9" fill="#ff9e00"/>
<rect x="374" y="274" width="9" height="9" fill="#ff9c00"/>
<rect x="382" y="274" width="9" height="9" fill="#ff9100"/>
<rect x="390" y="274" width="9" height="9" fill="#ff8600"/>
<rect x="398" y="274" width="9" height="9" fill="#ff8300"/>
<rect x="406" y="274" width="9" height="9" fill="#ff8a00"/>
<rect x="414" y="274" width="9" height="9" fill="#ff9200"/>
<rect x="422" y="274" width="9" height="9" fill="#ff9800"/>
<rect x="430" y="274" width="9" height="9" fill="#ff9700"/>
<rect x="438" y="274" width="9" height="9" fill="#ff9000"/>
<rect x="446" y="274" width="9" height="9" fill="#ff8700"/>
<rect x="454" y="274" width="9" height="9" fill="#ff8500"/>
<rect x="462" y="274" width="9" height="9" fill="#ff8d00"/>
<rect x="470" y="274" width="9" height="9" fill="#ff9700"/>
<rect x="478" y="274" width="9" height="9" fill="#ff9c00"/>
<rect x="486" y="274" width="9" height="9" fill="#ff9a00"/>
<rect x="494" y="274" width="9" height="9" fill="#ff9300"/>
<rect x="502" y="274" width="9" height="9" fill="#ff8900"/>
<rect x="510" y="274" width="9" height="9" fill="#ff7e00"/>
<rect x="518" y="274" width="9" height="9" fill="#ff7300"/>
<rect x="526" y="274" width="17" height="9" fill="#ff7100"/>
<rect x="118" y="282" width="17" height="9" fill="#ff9800"/>
<rect x="134" y="282" width="9" height="9" fill="#ff9900"/>
<rect x="142" y="282" width="9" height="9" fill="#ff9400"/>
<rect x="150" y="282" width="9" height="9" fill="#ff8400"/>
<rect x="158" y="282" width="9" height="9" fill="#ff6f00"/>
<rect x="166" y="282" width="9" height="9" fill="#ff5300"/>
<rect x="174" y="282" width="9" height="9" fill="#ff1800"/>
<rect x="182" y="282" width="9" height="9" fill="#ff2100"/>
<rect x="190" y="282" width="9" height="9" fill="#ff3c00"/>
<rect x="198" y="282" width="9" height="9" fill="#ff4500"/>
<rect x="206" y="282" width="9" height="9" fill="#ff4d00"/>
<rect x="214" y="282" width="9" height="9" fill="#ff5400"/>
<rect x="222" y="282" width="9" height="9" fill="#ff5500"/>
<rect x="230" y="282" width="9" height="9" fill="#ff5000"/>
<rect x="238" y="282" width="9" height="9" fill="#ff4e00"/>
<rect x="246" y="282" width="9" height="9" fill="#ff5500"/>
<rect x="254" y="282" width="9" height="9" fill="#ff6300"/>
<rect x="262" y="282" width="9" height="9" fill="#ff7400"/>
<rect x="270" y="282" width="9" height="9" fill="#ff8200"/>
<rect x="278" y="282" width="9" height="9" fill="#ff8500"/>
<rect x="286" y="282" width="9" height="9" fill="#ff7a00"/>
<rect x="294" y="282" width="9" height="9" fill="#ff6b00"/>
<rect x="302" y="282" width="9" height="9" fill="#ff6500"/>
<rect x="310" y="282" width="9" height="9" fill="#ff6900"/>
<rect x="318" y="282" width="9" height="9" fill="#ff7500"/>
<rect x="326" y="282" width="9" height="9" fill="#ff8500"/>
<rect x="334" y="282" width="9" height="9" fill="#ff9300"/>
<rect x="342" y="282" width="9" height="9" fill="#ff9b00"/>
<rect x="350" y="282" width="9" height="9" fill="#ff9e00"/>
<rect x="358" y="282" width="9" height="9" fill="#ffa100"/>
<rect x="366" y="282" width="9" height="9" fill="#ffa200"/>
<rect x="374" y="282" width="9" height="9" fill="#ffa100"/>
<rect x="382" y="282" width="9" height="9" fill="#ff9a00"/>
<rect x="390" y="282" width="9" height="9" fill="#ff9300"/>
<rect x="398" y="282" width="9" height="9" fill="#ff9100"/>
<rect x="406" y="282" width="9" height="9" fill="#ff9400"/>
<rect x="414" y="282" width="9" height="9" fill="#ff9700"/>
<rect x="422" y="282" width="9" height="9" fill="#ff9600"/>
<rect x="430" y="282" width="9" height="9" fill="#ff8e00"/>
<rect x="438" y="282" width="9" height="9" fill="#ff7f00"/>
<rect x="446" y="282" width="9" height="9" fill="#ff7100"/>
<rect x="454" y="282" width="9" height="9" fill="#ff6d00"/>
<rect x="462" y="282" width="9" height="9" fill="#ff7800"/>
<rect x="470" y="282" width="9" height="9" fill="#ff8800"/>
<rect x="478" y="282" width="9" height="9" fill="#ff9300"/>
<rect x="486" y="282" width="17" height="9" fill="#ff9800"/>
<rect x="502" y="282" width="9" height="9" fill="#ff9600"/>
<rect x="510" y="282" width="9" height="9" fill="#ff9200"/>
<rect x="518" y="282" width="25" height="9" fill="#ff8e00"/>
<rect x="118" y="290" width="17" height="9" fill="#ffae00"/>
<rect x="134" y="290" width="9" height="9" fill="#ffad00"/>
<rect x="142" y="290" width="9" height="9" fill="#ff9e00"/>
<rect x="150" y="290" width="9" height="9" fill="#ff8300"/>
<rect x="158" y="290" width="9" height="9" fill="#ff6400"/>
<rect x="166" y="290" width="9" height="9" fill="#ff1a00"/>
<rect x="174" y="290" width="9" height="9" fill="#ff0300"/>
<rect x="182" y="290" width="9" height="9" fill="#ff4600"/>
<rect x="190" y="290" width="9" height="9" fill="#ff5800"/>
<rect x="198" y="290" width="9" height="9" fill="#ff6300"/>
<rect x="206" y="290" width="9" height="9" fill="#ff6c00"/>
<rect x="214" y="290" width="17" height="9" fill="#ff7200"/>
<rect x="230" y="290" width="9" height="9" fill="#ff6e00"/>
<rect x="238" y="290" width="17" height="9" fill="#ff6b00"/>
<rect x="254" y="290" width="9" height="9" fill="#ff7100"/>
<rect x="262" y="290" width="9" height="9" fill="#ff7b00"/>
<rect x="270" y="290" width="9" height="9" fill="#ff8700"/>
<rect x="278" y="290" width="9" height="9" fill="#ff8c00"/>
<rect x="286" y="290" width="9" height="9" fill="#ff8800"/>
<rect x="294" y="290" width="9" height="9" fill="#ff8100"/>
<rect x="302" y="290" width="9" height="9" fill="#ff8000"/>
<rect x="310" y="290" width="9" height="9" fill="#ff8500"/>
<rect x="318" y="290" width="9" height="9" fill="#ff8c00"/>
<rect x="326" y="290" width="9" height="9" fill="#ff9300"/>
<rect x="334" y="290" width="9" height="9" fill="#ff9800"/>
<rect x="342" y="290" width="9" height="9" fill="#ff9b00"/>
<rect x="350" y="290" width="25" height="9" fill="#ff9e00"/>
<rect x="374" y="290" width="9" height="9" fill="#ff9d00"/>
<rect x="382" y="290" width="9" height="9" fill="#ff9b00"/>
<rect x="390" y="290" width="9" height="9" fill="#ff9900"/>
<rect x="398" y="290" width="9" height="9" fill="#ff9800"/>
<rect x="406" y="290" width="9" height="9" fill="#ff9600"/>
<rect x="414" y="290" width="9" height="9" fill="#ff9300"/>
<rect x="422" y="290" width="9" height="9" fill="#ff8c00"/>
<rect x="430" y="290" width="9" height="9" fill="#ff7f00"/>
<rect x="438" y="290" width="9" height="9" fill="#ff6e00"/>
<rect x="446" y="290" width="9" height="9" fill="#ff5f00"/>
<rect x="454" y="290" width="9" height="9" fill="#ff5c00"/>
<rect x="462" y="290" width="9" height="9" fill="#ff6800"/>
<rect x="470" y="290" width="9" height="9" fill="#ff7a00"/>
<rect x="478" y="290" width="9" height="9" fill="#ff8900"/>
<rect x="486" y="290" width="9" height="9" fill="#ff9400"/>
<rect x="494" y="290" width="9" height="9" fill="#ff9a00"/>
<rect x="502" y="290" width="9" height="9" fill="#ff9e00"/>
<rect x="510" y="290" width="33" height="9" fill="#ff9f00"/>
<rect x="118" y="298" width="17" height="9" fill="#ffb200"/>
<rect x="134" y="298" width="9" height="9" fill="#ffaf00"/>
<rect x="142" y="298" width="9" height="9" fill="#ff9b00"/>
<rect x="150" y="298" width="9" height="9" fill="#ff7600"/>
<rect x="158" y="298" width="9" height="9" fill="#ff3500"/>
<rect x="166" y="298" width="9" height="9" fill="#ff0300"/>
<rect x="174" y="298" width="9" height="9" fill="#ff4600"/>
<rect x="182" y="298" width="9" height="9" fill="#ff6800"/>
<rect x="190" y="298" width="9" height="9" fill="#ff7900"/>
<rect x="198" y="298" width="9" height="9" fill="#ff8700"/>
<rect x="206" y="298" width="9" height="9" fill="#ff9100"/>
<rect x="214" y="298" width="9" height="9" fill="#ff9700"/>
<rect x="222" y="298" width="9" height="9" fill="#ff9900"/>
<rect x="230" y="298" width="9" height="9" fill="#ff9800"/>
<rect x="238" y="298" width="9" height="9" fill="#ff9400"/>
<rect x="246" y="298" width="9" height="9" fill="#ff8d00"/>
<rect x="254" y="298" width="9" height="9" fill="#ff8700"/>
<rect x="262" y="298" width="9" height="9" fill="#ff8800"/>
<rect x="270" y="298" width="9" height="9" fill="#ff8e00"/>
<rect x="278" y="298" width="9" height="9" fill="#ff9400"/>
<rect x="286" y="298" width="9" height="9" fill="#ff9700"/>
<rect x="294" y="298" width="9" height="9" fill="#ff9a00"/>
<rect x="302" y="298" width="9" height="9" fill="#ff9f00"/>
<rect x="310" y="298" width="9" height="9" fill="#ffa400"/>
<rect x="318" y="298" width="9" height="9" fill="#ffa600"/>
<rect x="326" y="298" width="9" height="9" fill="#ffa200"/>
<rect x="334" y="298" width="9" height="9" fill="#ff9e00"/>
<rect x="342" y="298" width="9" height="9" fill="#ff9b00"/>
<rect x="350" y="298" width="9" height="9" fill="#ff9a00"/>
<rect x="358" y="298" width="9" height="9" fill="#ff9900"/>
<rect x="366" y="298" width="17" height="9" fill="#ff9800"/>
<rect x="382" y="298" width="9" height="9" fill="#ff9900"/>
<rect x="390" y="298" width="9" height="9" fill="#ff9a00"/>
<rect x="398" y="298" width="9" height="9" fill="#ff9900"/>
<rect x="406" y="298" width="9" height="9" fill="#ff9300"/>
<rect x="414" y="298" width="9" height="9" fill="#ff8b00"/>
<rect x="422" y="298" width="9" height="9" fill="#ff8100"/>
<rect x="430" y="298" width="9" height="9" fill="#ff7400"/>
<rect x="438" y="298" width="9" height="9" fill="#ff6400"/>
<rect x="446" y="298" width="9" height="9" fill="#ff5800"/>
<rect x="454" y="298" width="9" height="9" fill="#ff5600"/>
<rect x="462" y="298" width="9" height="9" fill="#ff6100"/>
<rect x="470" y="298" width="9" height="9" fill="#ff7300"/>
<rect x="478" y="298" width="9" height="9" fill="#ff8400"/>
<rect x="486" y="298" width="9" height="9" fill="#ff9200"/>
<rect x="494" y="298" width="9" height="9" fill="#ff9c00"/>
<rect x="502" y="298" width="9" height="9" fill="#ffa300"/>
<rect x="510" y="298" width="9" height="9" fill="#ffa600"/>
<rect x="518" y="298" width="9" height="9" fill="#ffa700"/>
<rect x="526" y="298" width="17" height="9" fill="#ffa600"/>
<rect x="118" y="306" width="17" height="9" fill="#ff9100"/>
<rect x="134" y="306" width="9" height="9" fill="#ff8b00"/>
<rect x="142" y="306" width="9" height="9" fill="#ff6500"/>
<rect x="150" y="306" width="9" height="9" fill="#ff2600"/>
<rect x="158" y="306" width="9" height="9" fill="#ff1e00"/>
<rect x="166" y="306" width="9" height="9" fill="#ff5200"/>
<rect x="174" y="306" width="9" height="9" fill="#ff7000"/>
<rect x="182" y="306" width="9" height="9" fill="#ff8100"/>
<rect x="190" y="306" width="9" height="9" fill="#ff9100"/>
<rect x="198" y="306" width="9" height="9" fill="#ffa000"/>
<rect x="206" y="306" width="9" height="9" fill="#ffab00"/>
<rect x="214" y="306" width="9" height="9" fill="#ffb300"/>
<rect x="222" y="306" width="9" height="9" fill="#ffb900"/>
<rect x="230" y="306" width="9" height="9" fill="#ffbd00"/>
<rect x="238" y="306" width="9" height="9" fill="#ffb900"/>
<rect x="246" y="306" width="9" height="9" fill="#ffae00"/>
<rect x="254" y="306" width="9" height="9" fill="#ffa000"/>
<rect x="262" y="306" width="9" height="9" fill="#ff9800"/>
<rect x="270" y="306" width="9" height="9" fill="#ff9700"/>
<rect x="278" y="306" width="9" height="9" fill="#ff9a00"/>
<rect x="286" y="306" width="9" height="9" fill="#ff9e00"/>
<rect x="294" y="306" width="9" height="9" fill="#ffa300"/>
<rect x="302" y="306" width="9" height="9" fill="#ffa800"/>
<rect x="310" y="306" width="17" height="9" fill="#ffac00"/>
<rect x="326" y="306" width="9" height="9" fill="#ffa600"/>
<rect x="334" y="306" width="9" height="9" fill="#ff9e00"/>
<rect x="342" y="306" width="9" height="9" fill="#ff9900"/>
<rect x="350" y="306" width="9" height="9" fill="#ff9600"/>
<rect x="358" y="306" width="9" height="9" fill="#ff9400"/>
<rect x="366" y="306" width="9" height="9" fill="#ff9500"/>
<rect x="374" y="306" width="9" height="9" fill="#ff9600"/>
<rect x="382" y="306" width="9" height="9" fill="#ff9900"/>
<rect x="390" y="306" width="9" height="9" fill="#ff9b00"/>
<rect x="398" y="306" width="9" height="9" fill="#ff9800"/>
<rect x="406" y="306" width="9" height="9" fill="#ff9000"/>
<rect x="414" y="306" width="9" height="9" fill="#ff8700"/>
<rect x="422" y="306" width="9" height="9" fill="#ff7e00"/>
<rect x="430" y="306" width="9" height="9" fill="#ff7300"/>
<rect x="438" y="306" width="9" height="9" fill="#ff6700"/>
<rect x="446" y="306" width="9" height="9" fill="#ff5c00"/>
<rect x="454" y="306" width="9" height="9" fill="#ff5b00"/>
<rect x="462" y="306" width="9" height="9" fill="#ff6500"/>
<rect x="470" y="306" width="9" height="9" fill="#ff7500"/>
<rect x="478" y="306" width="9" height="9" fill="#ff8600"/>
<rect x="486" y="306" width="9" height="9" fill="#ff9400"/>
<rect x="494" y="306" width="9" height="9" fill="#ff9f00"/>
<rect x="502" y="306" width="9" height="9" fill="#ffa400"/>
<rect x="510" y="306" width="33" height="9" fill="#ffa700"/>
<rect x="118" y="314" width="9" height="9" fill="#ff6200"/>
<rect x="126" y="314" width="9" height="9" fill="#ff5a00"/>
<rect x="134" y="314" width="9" height="9" fill="#ff3200"/>
<rect x="142" y="314" width="9" height="9" fill="#ff1600"/>
<rect x="150" y="314" width="9" height="9" fill="#ff4300"/>
<rect x="158" y="314" width="9" height="9" fill="#ff6e00"/>
<rect x="166" y="314" width="9" height="9" fill="#ff7f00"/>
<rect x="174" y="314" width="9" height="9" fill="#ff8800"/>
<rect x="182" y="314" width="9" height="9" fill="#ff9300"/>
<rect x="190" y="314" width="9" height="9" fill="#ff9e00"/>
<rect x="198" y="314" width="9" height="9" fill="#ffab00"/>
<rect x="206" y="314" width="9" height="9" fill="#ffb700"/>
<rect x="214" y="314" width="9" height="9" fill="#ffc400"/>
<rect x="222" y="314" width="9" height="9" fill="#ffd000"/>
<rect x="230" y="314" width="9" height="9" fill="#ffd700"/>
<rect x="238" y="314" width="9" height="9" fill="#ffd500"/>
<rect x="246" y="314" width="9" height="9" fill="#ffc700"/>
<rect x="254" y="314" width="9" height="9" fill="#ffb500"/>
<rect x="262" y="314" width="9" height="9" fill="#ffa700"/>
<rect x="270" y="314" width="9" height="9" fill="#ffa000"/>
<rect x="278" y="314" width="17" height="9" fill="#ff9e00"/>
<rect x="294" y="314" width="9" height="9" fill="#ff9f00"/>
<rect x="302" y="314" width="9" height="9" fill="#ffa200"/>
<rect x="310" y="314" width="9" height="9" fill="#ffa400"/>
<rect x="318" y="314" width="9" height="9" fill="#ffa300"/>
<rect x="326" y="314" width="9" height="9" fill="#ff9f00"/>
<rect x="334" y="314" width="9" height="9" fill="#ff9900"/>
<rect x="342" y="314" width="9" height="9" fill="#ff9400"/>
<rect x="350" y="314" width="9" height="9" fill="#ff9100"/>
<rect x="358" y="314" width="9" height="9" fill="#ff9000"/>
<rect x="366" y="314" width="9" height="9" fill="#ff9300"/>
<rect x="374" y="314" width="9" height="9" fill="#ff9600"/>
<rect x="382" y="314" width="9" height="9" fill="#ff9900"/>
<rect x="390" y="314" width="9" height="9" fill="#ff9a00"/>
<rect x="398" y="314" width="9" height="9" fill="#ff9600"/>
<rect x="406" y="314" width="9" height="9" fill="#ff8e00"/>
<rect x="414" y="314" width="9" height="9" fill="#ff8600"/>
<rect x="422" y="314" width="9" height="9" fill="#ff8000"/>
<rect x="430" y="314" width="9" height="9" fill="#ff7900"/>
<rect x="438" y="314" width="9" height="9" fill="#ff7000"/>
<rect x="446" y="314" width="9" height="9" fill="#ff6800"/>
<rect x="454" y="314" width="9" height="9" fill="#ff6700"/>
<rect x="462" y="314" width="9" height="9" fill="#ff7000"/>
<rect x="470" y="314" width="9" height="9" fill="#ff7d00"/>
<rect x="478" y="314" width="9" height="9" fill="#ff8c00"/>
<rect x="486" y="314" width="9" height="9" fill="#ff9800"/>
<rect x="494" y="314" width="9" height="9" fill="#ffa000"/>
<rect x="502" y="314" width="9" height="9" fill="#ffa400"/>
<rect x="510" y="314" width="9" height="9" fill="#ffa500"/>
<rect x="518" y="314" width="25" height="9" fill="#ffa600"/>
<rect x="118" y="322" width="9" height="9" fill="#ff4a00"/>
<rect x="126" y="322" width="9" height="9" fill="#ff3a00"/>
<rect x="134" y="322" width="9" height="9" fill="#ff3900"/>
<rect x="142" y="322" width="9" height="9" fill="#ff5700"/>
<rect x="150" y="322" width="9" height="9" fill="#ff7200"/>
<rect x="158" y="322" width="9" height="9" fill="#ff8600"/>
<rect x="166" y="322" width="9" height="9" fill="#ff9000"/>
<rect x="174" y="322" width="9" height="9" fill="#ff9500"/>
<rect x="182" y="322" width="9" height="9" fill="#ff9900"/>
<rect x="190" y="322" width="9" height="9" fill="#ffa000"/>
<rect x="198" y="322" width="9" height="9" fill="#ffac00"/>
<rect x="206" y="322" width="9" height="9" fill="#ffbc00"/>
<rect x="214" y="322" width="9" height="9" fill="#ffcd00"/>
<rect x="222" y="322" width="9" height="9" fill="#ffdd00"/>
<rect x="230" y="322" width="9" height="9" fill="#ffe700"/>
<rect x="238" y="322" width="9" height="9" fill="#ffe500"/>
<rect x="246" y="322" width="9" height="9" fill="#ffd400"/>
<rect x="254" y="322" width="9" height="9" fill="#ffbe00"/>
<rect x="262" y="322" width="9" height="9" fill="#ffac00"/>
<rect x="270" y="322" width="9" height="9" fill="#ffa200"/>
<rect x="278" y="322" width="9" height="9" fill="#ff9d00"/>
<rect x="286" y="322" width="9" height="9" fill="#ff9a00"/>
<rect x="294" y="322" width="9" height="9" fill="#ff9900"/>
<rect x="302" y="322" width="9" height="9" fill="#ff9a00"/>
<rect x="310" y="322" width="9" height="9" fill="#ff9c00"/>
<rect x="318" y="322" width="9" height="9" fill="#ff9b00"/>
<rect x="326" y="322" width="9" height="9" fill="#ff9800"/>
<rect x="334" y="322" width="9" height="9" fill="#ff9300"/>
<rect x="342" y="322" width="9" height="9" fill="#ff8e00"/>
<rect x="350" y="322" width="9" height="9" fill="#ff8c00"/>
<rect x="358" y="322" width="9" height="9" fill="#ff8b00"/>
<rect x="366" y="322" width="9" height="9" fill="#ff8e00"/>
<rect x="374" y="322" width="9" height="9" fill="#ff9100"/>
<rect x="382" y="322" width="9" height="9" fill="#ff9500"/>
<rect x="390" y="322" width="9" height="9" fill="#ff9600"/>
<rect x="398" y="322" width="9" height="9" fill="#ff9400"/>
<rect x="406" y="322" width="9" height="9" fill="#ff8f00"/>
<rect x="414" y="322" width="9" height="9" fill="#ff8900"/>
<rect x="422" y="322" width="9" height="9" fill="#ff8300"/>
<rect x="430" y="322" width="9" height="9" fill="#ff7d00"/>
<rect x="438" y="322" width="9" height="9" fill="#ff7700"/>
<rect x="446" y="322" width="17" height="9" fill="#ff7300"/>
<rect x="462" y="322" width="9" height="9" fill="#ff7900"/>
<rect x="470" y="322" width="9" height="9" fill="#ff8300"/>
<rect x="478" y="322" width="9" height="9" fill="#ff8d00"/>
<rect x="486" y="322" width="9" height="9" fill="#ff9600"/>
<rect x="494" y="322" width="9" height="9" fill="#ff9d00"/>
<rect x="502" y="322" width="9" height="9" fill="#ffa200"/>
<rect x="510" y="322" width="9" height="9" fill="#ffa400"/>
<rect x="518" y="322" width="25" height="9" fill="#ffa500"/>
<rect x="118" y="330" width="9" height="9" fill="#ff6100"/>
<rect x="126" y="330" width="9" height="9" fill="#ff6200"/>
<rect x="134" y="330" width="9" height="9" fill="#ff6600"/>
<rect x="142" y="330" width="9" height="9" fill="#ff7200"/>
<rect x="150" y="330" width="9" height="9" fill="#ff8200"/>
<rect x="158" y="330" width="9" height="9" fill="#ff8f00"/>
<rect x="166" y="330" width="17" height="9" fill="#ff9300"/>
<rect x="182" y="330" width="9" height="9" fill="#ff9400"/>
<rect x="190" y="330" width="9" height="9" fill="#ff9b00"/>
<rect x="198" y="330" width="9" height="9" fill="#ffa800"/>
<rect x="206" y="330" width="9" height="9" fill="#ffba00"/>
<rect x="214" y="330" width="9" height="9" fill="#ffcd00"/>
<rect x="222" y="330" width="9" height="9" fill="#ffde00"/>
<rect x="230" y="330" width="9" height="9" fill="#ffe700"/>
<rect x="238" y="330" width="9" height="9" fill="#ffe300"/>
<rect x="246" y="330" width="9" height="9" fill="#ffd000"/>
<rect x="254" y="330" width="9" height="9" fill="#ffb700"/>
<rect x="262" y="330" width="9" height="9" fill="#ffa500"/>
<rect x="270" y="330" width="9" height="9" fill="#ff9c00"/>
<rect x="278" y="330" width="9" height="9" fill="#ff9800"/>
<rect x="286" y="330" width="17" height="9" fill="#ff9600"/>
<rect x="302" y="330" width="9" height="9" fill="#ff9900"/>
<rect x="310" y="330" width="9" height="9" fill="#ff9b00"/>
<rect x="318" y="330" width="9" height="9" fill="#ff9a00"/>
<rect x="326" y="330" width="9" height="9" fill="#ff9300"/>
<rect x="334" y="330" width="9" height="9" fill="#ff8d00"/>
<rect x="342" y="330" width="9" height="9" fill="#ff8800"/>
<rect x="350" y="330" width="9" height="9" fill="#ff8700"/>
<rect x="358" y="330" width="17" height="9" fill="#ff8500"/>
<rect x="374" y="330" width="9" height="9" fill="#ff8600"/>
<rect x="382" y="330" width="9" height="9" fill="#ff8b00"/>
<rect x="390" y="330" width="9" height="9" fill="#ff9000"/>
<rect x="398" y="330" width="9" height="9" fill="#ff9300"/>
<rect x="406" y="330" width="9" height="9" fill="#ff9100"/>
<rect x="414" y="330" width="9" height="9" fill="#ff8c00"/>
<rect x="422" y="330" width="9" height="9" fill="#ff8400"/>
<rect x="430" y="330" width="9" height="9" fill="#ff7c00"/>
<rect x="438" y="330" width="17" height="9" fill="#ff7800"/>
<rect x="454" y="330" width="9" height="9" fill="#ff7b00"/>
<rect x="462" y="330" width="9" height="9" fill="#ff7e00"/>
<rect x="470" y="330" width="9" height="9" fill="#ff8200"/>
<rect x="478" y="330" width="9" height="9" fill="#ff8600"/>
<rect x="486" y="330" width="9" height="9" fill="#ff8c00"/>
<rect x="494" y="330" width="9" height="9" fill="#ff9400"/>
<rect x="502" y="330" width="9" height="9" fill="#ff9c00"/>
<rect x="510" y="330" width="9" height="9" fill="#ffa300"/>
<rect x="518" y="330" width="25" height="9" fill="#ffa500"/>
<rect x="118" y="338" width="25" height="9" fill="#ff8200"/>
<rect x="142" y="338" width="9" height="9" fill="#ff8700"/>
<rect x="150" y="338" width="9" height="9" fill="#ff8c00"/>
<rect x="158" y="338" width="9" height="9" fill="#ff8f00"/>
<rect x="166" y="338" width="9" height="9" fill="#ff8d00"/>
<rect x="174" y="338" width="17" height="9" fill="#ff8a00"/>
<rect x="190" y="338" width="9" height="9" fill="#ff9200"/>
<rect x="198" y="338" width="9" height="9" fill="#ff9f00"/>
<rect x="206" y="338" width="9" height="9" fill="#ffb000"/>
<rect x="214" y="338" width="9" height="9" fill="#ffc100"/>
<rect x="222" y="338" width="9" height="9" fill="#ffce00"/>
<rect x="230" y="338" width="9" height="9" fill="#ffd400"/>
<rect x="238" y="338" width="9" height="9" fill="#ffcd00"/>
<rect x="246" y="338" width="9" height="9" fill="#ffba00"/>
<rect x="254" y="338" width="9" height="9" fill="#ffa300"/>
<rect x="262" y="338" width="9" height="9" fill="#ff9500"/>
<rect x="270" y="338" width="9" height="9" fill="#ff9100"/>
<rect x="278" y="338" width="9" height="9" fill="#ff9200"/>
<rect x="286" y="338" width="9" height="9" fill="#ff9300"/>
<rect x="294" y="338" width="9" height="9" fill="#ff9500"/>
<rect x="302" y="338" width="9" height="9" fill="#ff9900"/>
<rect x="310" y="338" width="9" height="9" fill="#ff9c00"/>
<rect x="318" y="338" width="9" height="9" fill="#ff9900"/>
<rect x="326" y="338" width="9" height="9" fill="#ff9000"/>
<rect x="334" y="338" width="9" height="9" fill="#ff8700"/>
<rect x="342" y="338" width="17" height="9" fill="#ff8300"/>
<rect x="358" y="338" width="9" height="9" fill="#ff8100"/>
<rect x="366" y="338" width="9" height="9" fill="#ff7c00"/>
<rect x="374" y="338" width="9" height="9" fill="#ff7b00"/>
<rect x="382" y="338" width="9" height="9" fill="#ff8000"/>
<rect x="390" y="338" width="9" height="9" fill="#ff8900"/>
<rect x="398" y="338" width="17" height="9" fill="#ff8f00"/>
<rect x="414" y="338" width="9" height="9" fill="#ff8a00"/>
<rect x="422" y="338" width="9" height="9" fill="#ff8100"/>
<rect x="430" y="338" width="9" height="9" fill="#ff7900"/>
<rect x="438" y="338" width="9" height="9" fill="#ff7700"/>
<rect x="446" y="338" width="9" height="9" fill="#ff7a00"/>
<rect x="454" y="338" width="25" height="9" fill="#ff7e00"/>
<rect x="478" y="338" width="9" height="9" fill="#ff7f00"/>
<rect x="486" y="338" width="9" height="9" fill="#ff8200"/>
<rect x="494" y="338" width="9" height="9" fill="#ff8900"/>
<rect x="502" y="338" width="9" height="9" fill="#ff9200"/>
<rect x="510" y="338" width="9" height="9" fill="#ff9a00"/>
<rect x="518" y="338" width="17" height="9" fill="#ff9d00"/>
<rect x="534" y="338" width="9" height="9" fill="#ff9c00"/>
<rect x="118" y="346" width="17" height="9" fill="#ff8d00"/>
<rect x="134" y="346" width="9" height="9" fill="#ff8c00"/>
<rect x="142" y="346" width="9" height="9" fill="#ff8b00"/>
<rect x="150" y="346" width="9" height="9" fill="#ff8a00"/>
<rect x="158" y="346" width="9" height="9" fill="#ff8800"/>
<rect x="166" y="346" width="9" height="9" fill="#ff8400"/>
<rect x="174" y="346" width="17" height="9" fill="#ff8100"/>
<rect x="190" y="346" width="9" height="9" fill="#ff8700"/>
<rect x="198" y="346" width="9" height="9" fill="#ff9100"/>
<rect x="206" y="346" width="9" height="9" fill="#ff9c00"/>
<rect x="214" y="346" width="9" height="9" fill="#ffa600"/>
<rect x="222" y="346" width="9" height="9" fill="#ffab00"/>
<rect x="230" y="346" width="9" height="9" fill="#ffaa00"/>
<rect x="238" y="346" width="9" height="9" fill="#ffa000"/>
<rect x="246" y="346" width="9" height="9" fill="#ff9100"/>
<rect x="254" y="346" width="9" height="9" fill="#ff8400"/>
<rect x="262" y="346" width="9" height="9" fill="#ff8100"/>
<rect x="270" y="346" width="9" height="9" fill="#ff8700"/>
<rect x="278" y="346" width="9" height="9" fill="#ff8e00"/>
<rect x="286" y="346" width="9" height="9" fill="#ff9100"/>
<rect x="294" y="346" width="9" height="9" fill="#ff9300"/>
<rect x="302" y="346" width="9" height="9" fill="#ff9600"/>
<rect x="310" y="346" width="9" height="9" fill="#ff9700"/>
<rect x="318" y="346" width="9" height="9" fill="#ff9200"/>
<rect x="326" y="346" width="9" height="9" fill="#ff8800"/>
<rect x="334" y="346" width="9" height="9" fill="#ff8000"/>
<rect x="342" y="346" width="9" height="9" fill="#ff7e00"/>
<rect x="350" y="346" width="9" height="9" fill="#ff8000"/>
<rect x="358" y="346" width="9" height="9" fill="#ff7e00"/>
<rect x="366" y="346" width="9" height="9" fill="#ff7900"/>
<rect x="374" y="346" width="9" height="9" fill="#ff7600"/>
<rect x="382" y="346" width="9" height="9" fill="#ff7b00"/>
<rect x="390" y="346" width="9" height="9" fill="#ff8200"/>
<rect x="398" y="346" width="9" height="9" fill="#ff8700"/>
<rect x="406" y="346" width="9" height="9" fill="#ff8500"/>
<rect x="414" y="346" width="9" height="9" fill="#ff8100"/>
<rect x="422" y="346" width="9" height="9" fill="#ff7a00"/>
<rect x="430" y="346" width="9" height="9" fill="#ff7600"/>
<rect x="438" y="346" width="9" height="9" fill="#ff7700"/>
<rect x="446" y="346" width="9" height="9" fill="#ff7b00"/>
<rect x="454" y="346" width="9" height="9" fill="#ff7d00"/>
<rect x="462" y="346" width="9" height="9" fill="#ff7c00"/>
<rect x="470" y="346" width="17" height="9" fill="#ff7b00"/>
<rect x="486" y="346" width="9" height="9" fill="#ff7d00"/>
<rect x="494" y="346" width="9" height="9" fill="#ff8000"/>
<rect x="502" y="346" width="9" height="9" fill="#ff8400"/>
<rect x="510" y="346" width="9" height="9" fill="#ff8700"/>
<rect x="518" y="346" width="9" height="9" fill="#ff8800"/>
<rect x="526" y="346" width="17" height="9" fill="#ff8700"/>
<rect x="118" y="354" width="17" height="9" fill="#ff8d00"/>
<rect x="134" y="354" width="9" height="9" fill="#ff8900"/>
<rect x="142" y="354" width="9" height="9" fill="#ff8400"/>
<rect x="150" y="354" width="9" height="9" fill="#ff8000"/>
<rect x="158" y="354" width="9" height="9" fill="#ff7d00"/>
<rect x="166" y="354" width="9" height="9" fill="#ff7900"/>
<rect x="174" y="354" width="17" height="9" fill="#ff7600"/>
<rect x="190" y="354" width="9" height="9" fill="#ff7a00"/>
<rect x="198" y="354" width="9" height="9" fill="#ff7f00"/>
<rect x="206" y="354" width="9" height="9" fill="#ff8400"/>
<rect x="214" y="354" width="9" height="9" fill="#ff8600"/>
<rect x="222" y="354" width="9" height="9" fill="#ff8100"/>
<rect x="230" y="354" width="9" height="9" fill="#ff7700"/>
<rect x="238" y="354" width="9" height="9" fill="#ff6c00"/>
<rect x="246" y="354" width="17" height="9" fill="#ff6400"/>
<rect x="262" y="354" width="9" height="9" fill="#ff6d00"/>
<rect x="270" y="354" width="9" height="9" fill="#ff7b00"/>
<rect x="278" y="354" width="9" height="9" fill="#ff8700"/>
<rect x="286" y="354" width="25" height="9" fill="#ff8b00"/>
<rect x="310" y="354" width="9" height="9" fill="#ff8a00"/>
<rect x="318" y="354" width="9" height="9" fill="#ff8500"/>
<rect x="326" y="354" width="9" height="9" fill="#ff7d00"/>
<rect x="334" y="354" width="9" height="9" fill="#ff7600"/>
<rect x="342" y="354" width="9" height="9" fill="#ff7700"/>
<rect x="350" y="354" width="9" height="9" fill="#ff7b00"/>
<rect x="358" y="354" width="9" height="9" fill="#ff7c00"/>
<rect x="366" y="354" width="9" height="9" fill="#ff7900"/>
<rect x="374" y="354" width="9" height="9" fill="#ff7600"/>
<rect x="382" y="354" width="9" height="9" fill="#ff7800"/>
<rect x="390" y="354" width="17" height="9" fill="#ff7d00"/>
<rect x="406" y="354" width="9" height="9" fill="#ff7800"/>
<rect x="414" y="354" width="9" height="9" fill="#ff7400"/>
<rect x="422" y="354" width="9" height="9" fill="#ff7300"/>
<rect x="430" y="354" width="9" height="9" fill="#ff7400"/>
<rect x="438" y="354" width="9" height="9" fill="#ff7700"/>
<rect x="446" y="354" width="9" height="9" fill="#ff7a00"/>
<rect x="454" y="354" width="9" height="9" fill="#ff7b00"/>
<rect x="462" y="354" width="9" height="9" fill="#ff7900"/>
<rect x="470" y="354" width="9" height="9" fill="#ff7800"/>
<rect x="478" y="354" width="9" height="9" fill="#ff7900"/>
<rect x="486" y="354" width="9" height="9" fill="#ff7a00"/>
<rect x="494" y="354" width="9" height="9" fill="#ff7900"/>
<rect x="502" y="354" width="9" height="9" fill="#ff7400"/>
<rect x="510" y="354" width="9" height="9" fill="#ff6e00"/>
<rect x="518" y="354" width="17" height="9" fill="#ff6b00"/>
<rect x="534" y="354" width="9" height="9" fill="#ff6c00"/>
<rect x="118" y="362" width="9" height="9" fill="#ff9200"/>
<rect x="126" y="362" width="9" height="9" fill="#ff9100"/>
<rect x="134" y="362" width="9" height="9" fill="#ff8900"/>
<rect x="142" y="362" width="9" height="9" fill="#ff8000"/>
<rect x="150" y="362" width="9" height="9" fill="#ff7a00"/>
<rect x="158" y="362" width="9" height="9" fill="#ff7600"/>
<rect x="166" y="362" width="9" height="9" fill="#ff6f00"/>
<rect x="174" y="362" width="9" height="9" fill="#ff6900"/>
<rect x="182" y="362" width="17" height="9" fill="#ff6500"/>
<rect x="198" y="362" width="9" height="9" fill="#ff6800"/>
<rect x="206" y="362" width="9" height="9" fill="#ff6b00"/>
<rect x="214" y="362" width="9" height="9" fill="#ff6a00"/>
<rect x="222" y="362" width="9" height="9" fill="#ff5f00"/>
<rect x="230" y="362" width="9" height="9" fill="#ff4e00"/>
<rect x="238" y="362" width="9" height="9" fill="#ff4100"/>
<rect x="246" y="362" width="9" height="9" fill="#ff4200"/>
<rect x="254" y="362" width="9" height="9" fill="#ff4c00"/>
<rect x="262" y="362" width="9" height="9" fill="#ff5c00"/>
<rect x="270" y="362" width="9" height="9" fill="#ff6c00"/>
<rect x="278" y="362" width="9" height="9" fill="#ff7700"/>
<rect x="286" y="362" width="9" height="9" fill="#ff7a00"/>
<rect x="294" y="362" width="25" height="9" fill="#ff7900"/>
<rect x="318" y="362" width="9" height="9" fill="#ff7400"/>
<rect x="326" y="362" width="9" height="9" fill="#ff6c00"/>
<rect x="334" y="362" width="9" height="9" fill="#ff6600"/>
<rect x="342" y="362" width="9" height="9" fill="#ff6900"/>
<rect x="350" y="362" width="9" height="9" fill="#ff7100"/>
<rect x="358" y="362" width="17" height="9" fill="#ff7700"/>
<rect x="374" y="362" width="17" height="9" fill="#ff7600"/>
<rect x="390" y="362" width="9" height="9" fill="#ff7500"/>
<rect x="398" y="362" width="9" height="9" fill="#ff7300"/>
<rect x="406" y="362" width="9" height="9" fill="#ff6f00"/>
<rect x="414" y="362" width="9" height="9" fill="#ff6d00"/>
<rect x="422" y="362" width="9" height="9" fill="#ff6f00"/>
<rect x="430" y="362" width="9" height="9" fill="#ff7300"/>
<rect x="438" y="362" width="9" height="9" fill="#ff7700"/>
<rect x="446" y="362" width="9" height="9" fill="#ff7900"/>
<rect x="454" y="362" width="9" height="9" fill="#ff7800"/>
<rect x="462" y="362" width="9" height="9" fill="#ff7600"/>
<rect x="470" y="362" width="9" height="9" fill="#ff7500"/>
<rect x="478" y="362" width="9" height="9" fill="#ff7700"/>
<rect x="486" y="362" width="9" height="9" fill="#ff7900"/>
<rect x="494" y="362" width="9" height="9" fill="#ff7400"/>
<rect x="502" y="362" width="9" height="9" fill="#ff6700"/>
<rect x="510" y="362" width="9" height="9" fill="#ff5900"/>
<rect x="518" y="362" width="9" height="9" fill="#ff5300"/>
<rect x="526" y="362" width="17" height="9" fill="#ff5400"/>
<rect x="118" y="370" width="9" height="9" fill="#ffa000"/>
<rect x="126" y="370" width="9" height="9" fill="#ff9f00"/>
<rect x="134" y="370" width="9" height="9" fill="#ff9200"/>
<rect x="142" y="370" width="9" height="9" fill="#ff8500"/>
<rect x="150" y="370" width="9" height="9" fill="#ff7c00"/>
<rect x="158" y="370" width="9" height="9" fill="#ff7300"/>
<rect x="166" y="370" width="9" height="9" fill="#ff6600"/>
<rect x="174" y="370" width="9" height="9" fill="#ff5800"/>
<rect x="182" y="370" width="9" height="9" fill="#ff4f00"/>
<rect x="190" y="370" width="9" height="9" fill="#ff4d00"/>
<rect x="198" y="370" width="9" height="9" fill="#ff5100"/>
<rect x="206" y="370" width="9" height="9" fill="#ff5800"/>
<rect x="214" y="370" width="9" height="9" fill="#ff5900"/>
<rect x="222" y="370" width="9" height="9" fill="#ff4d00"/>
<rect x="230" y="370" width="9" height="9" fill="#ff3700"/>
<rect x="238" y="370" width="9" height="9" fill="#ff2a00"/>
<rect x="246" y="370" width="9" height="9" fill="#ff3000"/>
<rect x="254" y="370" width="9" height="9" fill="#ff4100"/>
<rect x="262" y="370" width="9" height="9" fill="#ff5100"/>
<rect x="270" y="370" width="9" height="9" fill="#ff5a00"/>
<rect x="278" y="370" width="9" height="9" fill="#ff5e00"/>
<rect x="286" y="370" width="9" height="9" fill="#ff5d00"/>
<rect x="294" y="370" width="9" height="9" fill="#ff5c00"/>
<rect x="302" y="370" width="9" height="9" fill="#ff6000"/>
<rect x="310" y="370" width="9" height="9" fill="#ff6400"/>
<rect x="318" y="370" width="9" height="9" fill="#ff6200"/>
<rect x="326" y="370" width="9" height="9" fill="#ff5a00"/>
<rect x="334" y="370" width="9" height="9" fill="#ff5400"/>
<rect x="342" y="370" width="9" height="9" fill="#ff5900"/>
<rect x="350" y="370" width="9" height="9" fill="#ff6400"/>
<rect x="358" y="370" width="9" height="9" fill="#ff6f00"/>
<rect x="366" y="370" width="17" height="9" fill="#ff7500"/>
<rect x="382" y="370" width="9" height="9" fill="#ff7200"/>
<rect x="390" y="370" width="9" height="9" fill="#ff6e00"/>
<rect x="398" y="370" width="17" height="9" fill="#ff6b00"/>
<rect x="414" y="370" width="9" height="9" fill="#ff6d00"/>
<rect x="422" y="370" width="9" height="9" fill="#ff6f00"/>
<rect x="430" y="370" width="9" height="9" fill="#ff7200"/>
<rect x="438" y="370" width="9" height="9" fill="#ff7500"/>
<rect x="446" y="370" width="9" height="9" fill="#ff7700"/>
<rect x="454" y="370" width="9" height="9" fill="#ff7800"/>
<rect x="462" y="370" width="9" height="9" fill="#ff7600"/>
<rect x="470" y="370" width="9" height="9" fill="#ff7400"/>
<rect x="478" y="370" width="9" height="9" fill="#ff7500"/>
<rect x="486" y="370" width="9" height="9" fill="#ff7600"/>
<rect x="494" y="370" width="9" height="9" fill="#ff6f00"/>
<rect x="502" y="370" width="9" height="9" fill="#ff5e00"/>
<rect x="510" y="370" width="9" height="9" fill="#ff4d00"/>
<rect x="518" y="370" width="9" height="9" fill="#ff4500"/>
<rect x="526" y="370" width="17" height="9" fill="#ff4700"/>
<rect x="118" y="378" width="9" height="9" fill="#ffb000"/>
<rect x="126" y="378" width="9" height="9" fill="#ffaf00"/>
<rect x="134" y="378" width="9" height="9" fill="#ffa000"/>
<rect x="142" y="378" width="9" height="9" fill="#ff8f00"/>
<rect x="150" y="378" width="9" height="9" fill="#ff8200"/>
<rect x="158" y="378" width="9" height="9" fill="#ff7300"/>
<rect x="166" y="378" width="9" height="9" fill="#ff5f00"/>
<rect x="174" y="378" width="9" height="9" fill="#ff4a00"/>
<rect x="182" y="378" width="9" height="9" fill="#ff3c00"/>
<rect x="190" y="378" width="9" height="9" fill="#ff3900"/>
<rect x="198" y="378" width="9" height="9" fill="#ff3f00"/>
<rect x="206" y="378" width="9" height="9" fill="#ff4b00"/>
<rect x="214" y="378" width="9" height="9" fill="#ff5200"/>
<rect x="222" y="378" width="9" height="9" fill="#ff4700"/>
<rect x="230" y="378" width="9" height="9" fill="#ff3100"/>
<rect x="238" y="378" width="9" height="9" fill="#ff2400"/>
<rect x="246" y="378" width="9" height="9" fill="#ff2b00"/>
<rect x="254" y="378" width="9" height="9" fill="#ff3b00"/>
<rect x="262" y="378" width="9" height="9" fill="#ff4600"/>
<rect x="270" y="378" width="9" height="9" fill="#ff4700"/>
<rect x="278" y="378" width="9" height="9" fill="#ff4400"/>
<rect x="286" y="378" width="17" height="9" fill="#ff3f00"/>
<rect x="302" y="378" width="9" height="9" fill="#ff4700"/>
<rect x="310" y="378" width="9" height="9" fill="#ff5100"/>
<rect x="318" y="378" width="9" height="9" fill="#ff5500"/>
<rect x="326" y="378" width="9" height="9" fill="#ff5100"/>
<rect x="334" y="378" width="9" height="9" fill="#ff4c00"/>
<rect x="342" y="378" width="9" height="9" fill="#ff5000"/>
<rect x="350" y="378" width="9" height="9" fill="#ff5b00"/>
<rect x="358" y="378" width="9" height="9" fill="#ff6800"/>
<rect x="366" y="378" width="9" height="9" fill="#ff7200"/>
<rect x="374" y="378" width="9" height="9" fill="#ff7500"/>
<rect x="382" y="378" width="9" height="9" fill="#ff7100"/>
<rect x="390" y="378" width="9" height="9" fill="#ff6a00"/>
<rect x="398" y="378" width="9" height="9" fill="#ff6800"/>
<rect x="406" y="378" width="9" height="9" fill="#ff6c00"/>
<rect x="414" y="378" width="9" height="9" fill="#ff7000"/>
<rect x="422" y="378" width="9" height="9" fill="#ff7100"/>
<rect x="430" y="378" width="9" height="9" fill="#ff7000"/>
<rect x="438" y="378" width="9" height="9" fill="#ff7300"/>
<rect x="446" y="378" width="9" height="9" fill="#ff7700"/>
<rect x="454" y="378" width="9" height="9" fill="#ff7a00"/>
<rect x="462" y="378" width="9" height="9" fill="#ff7800"/>
<rect x="470" y="378" width="9" height="9" fill="#ff7400"/>
<rect x="478" y="378" width="9" height="9" fill="#ff7300"/>
<rect x="486" y="378" width="9" height="9" fill="#ff7200"/>
<rect x="494" y="378" width="9" height="9" fill="#ff6a00"/>
<rect x="502" y="378" width="9" height="9" fill="#ff5900"/>
<rect x="510" y="378" width="9" height="9" fill="#ff4800"/>
<rect x="518" y="378" width="9" height="9" fill="#ff4000"/>
<rect x="526" y="378" width="17" height="9" fill="#ff4300"/>
<rect x="118" y="386" width="9" height="9" fill="#ffbb00"/>
<rect x="126" y="386" width="9" height="9" fill="#ffba00"/>
<rect x="134" y="386" width="9" height="9" fill="#ffad00"/>
<rect x="142" y="386" width="9" height="9" fill="#ff9a00"/>
<rect x="150" y="386" width="9" height="9" fill="#ff8800"/>
<rect x="158" y="386" width="9" height="9" fill="#ff7400"/>
<rect x="166" y="386" width="9" height="9" fill="#ff5b00"/>
<rect x="174" y="386" width="9" height="9" fill="#ff4500"/>
<rect x="182" y="386" width="9" height="9" fill="#ff3600"/>
<rect x="190" y="386" width="9" height="9" fill="#ff3200"/>
<rect x="198" y="386" width="9" height="9" fill="#ff3900"/>
<rect x="206" y="386" width="9" height="9" fill="#ff4700"/>
<rect x="214" y="386" width="9" height="9" fill="#ff5100"/>
<rect x="222" y="386" width="9" height="9" fill="#ff4b00"/>
<rect x="230" y="386" width="9" height="9" fill="#ff3800"/>
<rect x="238" y="386" width="9" height="9" fill="#ff2a00"/>
<rect x="246" y="386" width="9" height="9" fill="#ff2d00"/>
<rect x="254" y="386" width="9" height="9" fill="#ff3600"/>
<rect x="262" y="386" width="9" height="9" fill="#ff3a00"/>
<rect x="270" y="386" width="9" height="9" fill="#ff3700"/>
<rect x="278" y="386" width="9" height="9" fill="#ff2f00"/>
<rect x="286" y="386" width="17" height="9" fill="#ff2800"/>
<rect x="302" y="386" width="9" height="9" fill="#ff3300"/>
<rect x="310" y="386" width="9" height="9" fill="#ff4400"/>
<rect x="318" y="386" width="9" height="9" fill="#ff5100"/>
<rect x="326" y="386" width="17" height="9" fill="#ff5400"/>
<rect x="342" y="386" width="9" height="9" fill="#ff5600"/>
<rect x="350" y="386" width="9" height="9" fill="#ff5c00"/>
<rect x="358" y="386" width="9" height="9" fill="#ff6600"/>
<rect x="366" y="386" width="9" height="9" fill="#ff7100"/>
<rect x="374" y="386" width="9" height="9" fill="#ff7600"/>
<rect x="382" y="386" width="9" height="9" fill="#ff7200"/>
<rect x="390" y="386" width="9" height="9" fill="#ff6b00"/>
<rect x="398" y="386" width="9" height="9" fill="#ff6900"/>
<rect x="406" y="386" width="9" height="9" fill="#ff6f00"/>
<rect x="414" y="386" width="9" height="9" fill="#ff7400"/>
<rect x="422" y="386" width="9" height="9" fill="#ff7200"/>
<rect x="430" y="386" width="9" height="9" fill="#ff6f00"/>
<rect x="438" y="386" width="9" height="9" fill="#ff7100"/>
<rect x="446" y="386" width="9" height="9" fill="#ff7800"/>
<rect x="454" y="386" width="9" height="9" fill="#ff7d00"/>
<rect x="462" y="386" width="9" height="9" fill="#ff7c00"/>
<rect x="470" y="386" width="9" height="9" fill="#ff7800"/>
<rect x="478" y="386" width="9" height="9" fill="#ff7400"/>
<rect x="486" y="386" width="9" height="9" fill="#ff6f00"/>
<rect x="494" y="386" width="9" height="9" fill="#ff6600"/>
<rect x="502" y="386" width="9" height="9" fill="#ff5700"/>
<rect x="510" y="386" width="9" height="9" fill="#ff4a00"/>
<rect x="518" y="386" width="9" height="9" fill="#ff4300"/>
<rect x="526" y="386" width="9" height="9" fill="#ff4500"/>
<rect x="534" y="386" width="9" height="9" fill="#ff4600"/>
<rect x="118" y="394" width="9" height="9" fill="#ffc300"/>
<rect x="126" y="394" width="9" height="9" fill="#ffc200"/>
<rect x="134" y="394" width="9" height="9" fill="#ffb800"/>
<rect x="142" y="394" width="9" height="9" fill="#ffa500"/>
<rect x="150" y="394" width="9" height="9" fill="#ff8f00"/>
<rect x="158" y="394" width="9" height="9" fill="#ff7600"/>
<rect x="166" y="394" width="9" height="9" fill="#ff5d00"/>
<rect x="174" y="394" width="9" height="9" fill="#ff4700"/>
<rect x="182" y="394" width="9" height="9" fill="#ff3900"/>
<rect x="190" y="394" width="9" height="9" fill="#ff3500"/>
<rect x="198" y="394" width="9" height="9" fill="#ff3b00"/>
<rect x="206" y="394" width="9" height="9" fill="#ff4900"/>
<rect x="214" y="394" width="9" height="9" fill="#ff5400"/>
<rect x="222" y="394" width="9" height="9" fill="#ff5200"/>
<rect x="230" y="394" width="9" height="9" fill="#ff4500"/>
<rect x="238" y="394" width="9" height="9" fill="#ff3900"/>
<rect x="246" y="394" width="17" height="9" fill="#ff3600"/>
<rect x="262" y="394" width="9" height="9" fill="#ff3400"/>
<rect x="270" y="394" width="9" height="9" fill="#ff2d00"/>
<rect x="278" y="394" width="9" height="9" fill="#ff2300"/>
<rect x="286" y="394" width="9" height="9" fill="#ff1a00"/>
<rect x="294" y="394" width="9" height="9" fill="#ff1900"/>
<rect x="302" y="394" width="9" height="9" fill="#ff2600"/>
<rect x="310" y="394" width="9" height="9" fill="#ff3d00"/>
<rect x="318" y="394" width="9" height="9" fill="#ff5300"/>
<rect x="326" y="394" width="9" height="9" fill="#ff6000"/>
<rect x="334" y="394" width="9" height="9" fill="#ff6500"/>
<rect x="342" y="394" width="17" height="9" fill="#ff6600"/>
<rect x="358" y="394" width="9" height="9" fill="#ff6b00"/>
<rect x="366" y="394" width="9" height="9" fill="#ff7300"/>
<rect x="374" y="394" width="9" height="9" fill="#ff7900"/>
<rect x="382" y="394" width="9" height="9" fill="#ff7500"/>
<rect x="390" y="394" width="9" height="9" fill="#ff6e00"/>
<rect x="398" y="394" width="9" height="9" fill="#ff6d00"/>
<rect x="406" y="394" width="9" height="9" fill="#ff7200"/>
<rect x="414" y="394" width="9" height="9" fill="#ff7600"/>
<rect x="422" y="394" width="9" height="9" fill="#ff7300"/>
<rect x="430" y="394" width="9" height="9" fill="#ff7000"/>
<rect x="438" y="394" width="9" height="9" fill="#ff7200"/>
<rect x="446" y="394" width="9" height="9" fill="#ff7a00"/>
<rect x="454" y="394" width="17" height="9" fill="#ff8100"/>
<rect x="470" y="394" width="9" height="9" fill="#ff7c00"/>
<rect x="478" y="394" width="9" height="9" fill="#ff7600"/>
<rect x="486" y="394" width="9" height="9" fill="#ff6e00"/>
<rect x="494" y="394" width="9" height="9" fill="#ff6400"/>
<rect x="502" y="394" width="9" height="9" fill="#ff5a00"/>
<rect x="510" y="394" width="9" height="9" fill="#ff5100"/>
<rect x="518" y="394" width="9" height="9" fill="#ff4d00"/>
<rect x="526" y="394" width="17" height="9" fill="#ff4e00"/>
<rect x="118" y="402" width="9" height="9" fill="#ffcb00"/>
<rect x="126" y="402" width="9" height="9" fill="#ffca00"/>
<rect x="134" y="402" width="9" height="9" fill="#ffc100"/>
<rect x="142" y="402" width="9" height="9" fill="#ffaf00"/>
<rect x="150" y="402" width="9" height="9" fill="#ff9700"/>
<rect x="158" y="402" width="9" height="9" fill="#ff7e00"/>
<rect x="166" y="402" width="9" height="9" fill="#ff6500"/>
<rect x="174" y="402" width="9" height="9" fill="#ff5000"/>
<rect x="182" y="402" width="9" height="9" fill="#ff4300"/>
<rect x="190" y="402" width="9" height="9" fill="#ff3e00"/>
<rect x="198" y="402" width="9" height="9" fill="#ff4200"/>
<rect x="206" y="402" width="9" height="9" fill="#ff4d00"/>
<rect x="214" y="402" width="9" height="9" fill="#ff5700"/>
<rect x="222" y="402" width="9" height="9" fill="#ff5900"/>
<rect x="230" y="402" width="9" height="9" fill="#ff5300"/>
<rect x="238" y="402" width="9" height="9" fill="#ff4b00"/>
<rect x="246" y="402" width="9" height="9" fill="#ff4600"/>
<rect x="254" y="402" width="9" height="9" fill="#ff4200"/>
<rect x="262" y="402" width="9" height="9" fill="#ff3a00"/>
<rect x="270" y="402" width="9" height="9" fill="#ff2e00"/>
<rect x="278" y="402" width="9" height="9" fill="#ff2000"/>
<rect x="286" y="402" width="9" height="9" fill="#ff1300"/>
<rect x="294" y="402" width="9" height="9" fill="#ff1000"/>
<rect x="302" y="402" width="9" height="9" fill="#ff2000"/>
<rect x="310" y="402" width="9" height="9" fill="#ff3b00"/>
<rect x="318" y="402" width="9" height="9" fill="#ff5600"/>
<rect x="326" y="402" width="9" height="9" fill="#ff6900"/>
<rect x="334" y="402" width="9" height="9" fill="#ff7300"/>
<rect x="342" y="402" width="17" height="9" fill="#ff7700"/>
<rect x="358" y="402" width="9" height="9" fill="#ff7800"/>
<rect x="366" y="402" width="9" height="9" fill="#ff7c00"/>
<rect x="374" y="402" width="9" height="9" fill="#ff7d00"/>
<rect x="382" y="402" width="9" height="9" fill="#ff7800"/>
<rect x="390" y="402" width="9" height="9" fill="#ff7000"/>
<rect x="398" y="402" width="9" height="9" fill="#ff6e00"/>
<rect x="406" y="402" width="9" height="9" fill="#ff7200"/>
<rect x="414" y="402" width="25" height="9" fill="#ff7600"/>
<rect x="438" y="402" width="9" height="9" fill="#ff7800"/>
<rect x="446" y="402" width="9" height="9" fill="#ff7d00"/>
<rect x="454" y="402" width="9" height="9" fill="#ff8200"/>
<rect x="462" y="402" width="9" height="9" fill="#ff8300"/>
<rect x="470" y="402" width="9" height="9" fill="#ff7f00"/>
<rect x="478" y="402" width="9" height="9" fill="#ff7900"/>
<rect x="486" y="402" width="9" height="9" fill="#ff7100"/>
<rect x="494" y="402" width="9" height="9" fill="#ff6800"/>
<rect x="502" y="402" width="9" height="9" fill="#ff6100"/>
<rect x="510" y="402" width="9" height="9" fill="#ff5d00"/>
<rect x="518" y="402" width="9" height="9" fill="#ff5b00"/>
<rect x="526" y="402" width="17" height="9" fill="#ff5c00"/>
<rect x="118" y="410" width="17" height="9" fill="#ffd300"/>
<rect x="134" y="410" width="9" height="9" fill="#ffc700"/>
<rect x="142" y="410" width="9" height="9" fill="#ffb400"/>
<rect x="150" y="410" width="9" height="9" fill="#ffa000"/>
<rect x="158" y="410" width="9" height="9" fill="#ff8800"/>
<rect x="166" y="410" width="9" height="9" fill="#ff7000"/>
<rect x="174" y="410" width="9" height="9" fill="#ff5900"/>
<rect x="182" y="410" width="9" height="9" fill="#ff4b00"/>
<rect x="190" y="410" width="9" height="9" fill="#ff4600"/>
<rect x="198" y="410" width="9" height="9" fill="#ff4800"/>
<rect x="206" y="410" width="9" height="9" fill="#ff5000"/>
<rect x="214" y="410" width="9" height="9" fill="#ff5700"/>
<rect x="222" y="410" width="9" height="9" fill="#ff5b00"/>
<rect x="230" y="410" width="9" height="9" fill="#ff5a00"/>
<rect x="238" y="410" width="17" height="9" fill="#ff5800"/>
<rect x="254" y="410" width="9" height="9" fill="#ff5500"/>
<rect x="262" y="410" width="9" height="9" fill="#ff4a00"/>
<rect x="270" y="410" width="9" height="9" fill="#ff3800"/>
<rect x="278" y="410" width="9" height="9" fill="#ff2400"/>
<rect x="286" y="410" width="9" height="9" fill="#ff1300"/>
<rect x="294" y="410" width="9" height="9" fill="#ff0f00"/>
<rect x="302" y="410" width="9" height="9" fill="#ff1f00"/>
<rect x="310" y="410" width="9" height="9" fill="#ff3c00"/>
<rect x="318" y="410" width="9" height="9" fill="#ff5800"/>
<rect x="326" y="410" width="9" height="9" fill="#ff6a00"/>
<rect x="334" y="410" width="9" height="9" fill="#ff7500"/>
<rect x="342" y="410" width="9" height="9" fill="#ff7e00"/>
<rect x="350" y="410" width="9" height="9" fill="#ff8500"/>
<rect x="358" y="410" width="9" height="9" fill="#ff8800"/>
<rect x="366" y="410" width="9" height="9" fill="#ff8700"/>
<rect x="374" y="410" width="9" height="9" fill="#ff8100"/>
<rect x="382" y="410" width="9" height="9" fill="#ff7700"/>
<rect x="390" y="410" width="9" height="9" fill="#ff6e00"/>
<rect x="398" y="410" width="9" height="9" fill="#ff6b00"/>
<rect x="406" y="410" width="9" height="9" fill="#ff6e00"/>
<rect x="414" y="410" width="9" height="9" fill="#ff7500"/>
<rect x="422" y="410" width="9" height="9" fill="#ff7b00"/>
<rect x="430" y="410" width="9" height="9" fill="#ff7f00"/>
<rect x="438" y="410" width="17" height="9" fill="#ff8000"/>
<rect x="454" y="410" width="9" height="9" fill="#ff7f00"/>
<rect x="462" y="410" width="9" height="9" fill="#ff8000"/>
<rect x="470" y="410" width="9" height="9" fill="#ff7f00"/>
<rect x="478" y="410" width="9" height="9" fill="#ff7c00"/>
<rect x="486" y="410" width="9" height="9" fill="#ff7600"/>
<rect x="494" y="410" width="9" height="9" fill="#ff7000"/>
<rect x="502" y="410" width="9" height="9" fill="#ff6b00"/>
<rect x="510" y="410" width="9" height="9" fill="#ff6900"/>
<rect x="518" y="410" width="25" height="9" fill="#ff6800"/>
<rect x="118" y="418" width="17" height="9" fill="#ffd300"/>
<rect x="134" y="418" width="9" height="9" fill="#ffc700"/>
<rect x="142" y="418" width="9" height="9" fill="#ffb400"/>
<rect x="150" y="418" width="9" height="9" fill="#ffa000"/>
<rect x="158" y="418" width="9" height="9" fill="#ff8900"/>
<rect x="166" y="418" width="9" height="9" fill="#ff7000"/>
<rect x="174" y="418" width="9" height="9" fill="#ff5900"/>
<rect x="182" y="418" width="9" height="9" fill="#ff4b00"/>
<rect x="190" y="418" width="9" height="9" fill="#ff4600"/>
<rect x="198" y="418" width="9" height="9" fill="#ff4900"/>
<rect x="206" y="418" width="9" height="9" fill="#ff5000"/>
<rect x="214" y="418" width="9" height="9" fill="#ff5700"/>
<rect x="222" y="418" width="9" height="9" fill="#ff5b00"/>
<rect x="230" y="418" width="9" height="9" fill="#ff5a00"/>
<rect x="238" y="418" width="17" height="9" fill="#ff5900"/>
<rect x="254" y="418" width="9" height="9" fill="#ff5500"/>
<rect x="262" y="418" width="9" height="9" fill="#ff4a00"/>
<rect x="270" y="418" width="9" height="9" fill="#ff3800"/>
<rect x="278" y="418" width="9" height="9" fill="#ff2400"/>
<rect x="286" y="418" width="9" height="9" fill="#ff1300"/>
<rect x="294" y="418" width="9" height="9" fill="#ff0e00"/>
<rect x="302" y="418" width="9" height="9" fill="#ff1f00"/>
<rect x="310" y="418" width="9" height="9" fill="#ff3c00"/>
<rect x="318" y="418" width="9" height="9" fill="#ff5800"/>
<rect x="326" y="418" width="9" height="9" fill="#ff6a00"/>
<rect x="334" y="418" width="9" height="9" fill="#ff7500"/>
<rect x="342" y="418" width="9" height="9" fill="#ff7e00"/>
<rect x="350" y="418" width="9" height="9" fill="#ff8500"/>
<rect x="358" y="418" width="9" height="9" fill="#ff8900"/>
<rect x="366" y="418" width="9" height="9" fill="#ff8700"/>
<rect x="374" y="418" width="9" height="9" fill="#ff8100"/>
<rect x="382" y="418" width="9" height="9" fill="#ff7700"/>
<rect x="390" y="418" width="9" height="9" fill="#ff6e00"/>
<rect x="398" y="418" width="9" height="9" fill="#ff6b00"/>
<rect x="406" y="418" width="9" height="9" fill="#ff6e00"/>
<rect x="414" y="418" width="9" height="9" fill="#ff7500"/>
<rect x="422" y="418" width="9" height="9" fill="#ff7b00"/>
<rect x="430" y="418" width="9" height="9" fill="#ff7f00"/>
<rect x="438" y="418" width="9" height="9" fill="#ff8100"/>
<rect x="446" y="418" width="9" height="9" fill="#ff8000"/>
<rect x="454" y="418" width="9" height="9" fill="#ff7f00"/>
<rect x="462" y="418" width="9" height="9" fill="#ff8000"/>
<rect x="470" y="418" width="9" height="9" fill="#ff7f00"/>
<rect x="478" y="418" width="9" height="9" fill="#ff7c00"/>
<rect x="486" y="418" width="9" height="9" fill="#ff7600"/>
<rect x="494" y="418" width="9" height="9" fill="#ff7000"/>
<rect x="502" y="418" width="9" height="9" fill="#ff6c00"/>
<rect x="510" y="418" width="9" height="9" fill="#ff6900"/>
<rect x="518" y="418" width="9" height="9" fill="#ff6800"/>
<rect x="526" y="418" width="17" height="9" fill="#ff6900"/>
<rect x="118" y="426" width="17" height="9" fill="#ffd300"/>
<rect x="134" y="426" width="9" height="9" fill="#ffc600"/>
<rect x="142" y="426" width="9" height="9" fill="#ffb400"/>
<rect x="150" y="426" width="9" height="9" fill="#ff9f00"/>
<rect x="158" y="426" width="9" height="9" fill="#ff8800"/>
<rect x="166" y="426" width="9" height="9" fill="#ff6f00"/>
<rect x="174" y="426" width="9" height="9" fill="#ff5900"/>
<rect x="182" y="426" width="9" height="9" fill="#ff4b00"/>
<rect x="190" y="426" width="9" height="9" fill="#ff4600"/>
<rect x="198" y="426" width="9" height="9" fill="#ff4900"/>
<rect x="206" y="426" width="9" height="9" fill="#ff5000"/>
<rect x="214" y="426" width="9" height="9" fill="#ff5700"/>
<rect x="222" y="426" width="9" height="9" fill="#ff5b00"/>
<rect x="230" y="426" width="9" height="9" fill="#ff5a00"/>
<rect x="238" y="426" width="17" height="9" fill="#ff5900"/>
<rect x="254" y="426" width="9" height="9" fill="#ff5500"/>
<rect x="262" y="426" width="9" height="9" fill="#ff4a00"/>
<rect x="270" y="426" width="9" height="9" fill="#ff3800"/>
<rect x="278" y="426" width="9" height="9" fill="#ff2400"/>
<rect x="286" y="426" width="9" height="9" fill="#ff1300"/>
<rect x="294" y="426" width="9" height="9" fill="#ff0e00"/>
<rect x="302" y="426" width="9" height="9" fill="#ff1e00"/>
<rect x="310" y="426" width="9" height="9" fill="#ff3c00"/>
<rect x="318" y="426" width="9" height="9" fill="#ff5800"/>
<rect x="326" y="426" width="9" height="9" fill="#ff6a00"/>
<rect x="334" y="426" width="9" height="9" fill="#ff7500"/>
<rect x="342" y="426" width="9" height="9" fill="#ff7e00"/>
<rect x="350" y="426" width="9" height="9" fill="#ff8500"/>
<rect x="358" y="426" width="9" height="9" fill="#ff8900"/>
<rect x="366" y="426" width="9" height="9" fill="#ff8700"/>
<rect x="374" y="426" width="9" height="9" fill="#ff8100"/>
<rect x="382" y="426" width="9" height="9" fill="#ff7800"/>
<rect x="390" y="426" width="9" height="9" fill="#ff6e00"/>
<rect x="398" y="426" width="9" height="9" fill="#ff6b00"/>
<rect x="406" y="426" width="9" height="9" fill="#ff6e00"/>
<rect x="414" y="426" width="9" height="9" fill="#ff7400"/>
<rect x="422" y="426" width="9" height="9" fill="#ff7b00"/>
<rect x="430" y="426" width="9" height="9" fill="#ff7f00"/>
<rect x="438" y="426" width="9" height="9" fill="#ff8100"/>
<rect x="446" y="426" width="9" height="9" fill="#ff8000"/>
<rect x="454" y="426" width="9" height="9" fill="#ff7f00"/>
<rect x="462" y="426" width="9" height="9" fill="#ff8000"/>
<rect x="470" y="426" width="9" height="9" fill="#ff7f00"/>
<rect x="478" y="426" width="9" height="9" fill="#ff7c00"/>
<rect x="486" y="426" width="9" height="9" fill="#ff7700"/>
<rect x="494" y="426" width="9" height="9" fill="#ff7000"/>
<rect x="502" y="426" width="9" height="9" fill="#ff6c00"/>
<rect x="510" y="426" width="9" height="9" fill="#ff6900"/>
<rect x="518" y="426" width="9" height="9" fill="#ff6800"/>
<rect x="526" y="426" width="17" height="9" fill="#ff6900"/>
<rect x="118" y="434" width="17" height="9" fill="#ffd300"/>
<rect x="134" y="434" width="9" height="9" fill="#ffc600"/>
<rect x="142" y="434" width="9" height="9" fill="#ffb400"/>
<rect x="150" y="434" width="9" height="9" fill="#ff9f00"/>
<rect x="158" y="434" width="9" height="9" fill="#ff8800"/>
<rect x="166" y="434" width="9" height="9" fill="#ff6f00"/>
<rect x="174" y="434" width="9" height="9" fill="#ff5900"/>
<rect x="182" y="434" width="9" height="9" fill="#ff4b00"/>
<rect x="190" y="434" width="9" height="9" fill="#ff4600"/>
<rect x="198" y="434" width="9" height="9" fill="#ff4900"/>
<rect x="206" y="434" width="9" height="9" fill="#ff5000"/>
<rect x="214" y="434" width="9" height="9" fill="#ff5700"/>
<rect x="222" y="434" width="9" height="9" fill="#ff5b00"/>
<rect x="230" y="434" width="9" height="9" fill="#ff5a00"/>
<rect x="238" y="434" width="17" height="9" fill="#ff5900"/>
<rect x="254" y="434" width="9" height="9" fill="#ff5500"/>
<rect x="262" y="434" width="9" height="9" fill="#ff4a00"/>
<rect x="270" y="434" width="9" height="9" fill="#ff3800"/>
<rect x="278" y="434" width="9" height="9" fill="#ff2400"/>
<rect x="286" y="434" width="9" height="9" fill="#ff1300"/>
<rect x="294" y="434" width="9" height="9" fill="#ff0e00"/>
<rect x="302" y="434" width="9" height="9" fill="#ff1e00"/>
<rect x="310" y="434" width="9" height="9" fill="#ff3c00"/>
<rect x="318" y="434" width="9" height="9" fill="#ff5800"/>
<rect x="326" y="434" width="9" height="9" fill="#ff6900"/>
<rect x="334" y="434" width="9" height="9" fill="#ff7500"/>
<rect x="342" y="434" width="9" height="9" fill="#ff7e00"/>
<rect x="350" y="434" width="9" height="9" fill="#ff8500"/>
<rect x="358" y="434" width="9" height="9" fill="#ff8900"/>
<rect x="366" y="434" width="9" height="9" fill="#ff8700"/>
<rect x="374" y="434" width="9" height="9" fill="#ff8100"/>
<rect x="382" y="434" width="9" height="9" fill="#ff7800"/>
<rect x="390" y="434" width="9" height="9" fill="#ff6e00"/>
<rect x="398" y="434" width="9" height="9" fill="#ff6b00"/>
<rect x="406" y="434" width="9" height="9" fill="#ff6e00"/>
<rect x="414" y="434" width="9" height="9" fill="#ff7400"/>
<rect x="422" y="434" width="9" height="9" fill="#ff7b00"/>
<rect x="430" y="434" width="9" height="9" fill="#ff7f00"/>
<rect x="438" y="434" width="9" height="9" fill="#ff8100"/>
<rect x="446" y="434" width="9" height="9" fill="#ff8000"/>
<rect x="454" y="434" width="25" height="9" fill="#ff7f00"/>
<rect x="478" y="434" width="9" height="9" fill="#ff7c00"/>
<rect x="486" y="434" width="9" height="9" fill="#ff7700"/>
<rect x="494" y="434" width="9" height="9" fill="#ff7100"/>
<rect x="502" y="434" width="9" height="9" fill="#ff6c00"/>
<rect x="510" y="434" width="9" height="9" fill="#ff6900"/>
<rect x="518" y="434" width="9" height="9" fill="#ff6800"/>
<rect x="526" y="434" width="17" height="9" fill="#ff6900"/>
</g>
<g stroke="#000" stroke-width="1" fill="none" stroke-dasharray="2 2" shape-rendering="crispEdges">
<polyline points="142,85.4 330,85.8 430,84.0 506.9,82.6"/>
<polyline points="142,124.6 330,125.3 430,124.6 508.0,123.6"/>
<polyline points="142,164.4 330,164.6 430,163.6 509.0,163.0"/>
<polyline points="142,204.2 330,204.3 430,203.9 510.0,203.5"/>
<polyline points="142,244.5 330,244.3 430,243.0 511.0,242.3"/>
<polyline points="142,283.3 330,283.3 430,282.7 512.0,282.3"/>
<polyline points="142,323.3 330,323.3 430,322.8 517.5,322.4"/>
<polyline points="142,362.5 330,362.5 430,362.5 517.5,362.5"/>
<polyline points="142,402.0 330,402.0 430,402.3 517.5,402.5"/>
<polyline points="147.7,74 144.8,240 142.5,412"/>
<polyline points="185.6,74 183.6,240 181.9,412"/>
<polyline points="223.6,74 222.4,240 221.3,412"/>
<polyline points="261.6,74 261.2,240 260.7,412"/>
<polyline points="299.5,74 300.0,240 300.1,412"/>
<polyline points="337.4,74 338.8,240 339.5,412"/>
<polyline points="375.4,74 377.6,240 378.9,412"/>
<polyline points="413.4,74 416.4,240 418.3,412"/>
<polyline points="451.3,74 455.2,240 457.7,412"/>
<polyline points="489.2,74 494.0,240 497.1,412"/>
</g>
<g stroke-linejoin="round" stroke-linecap="round" shape-rendering="crispEdges">
<g transform="translate(138,76) scale(0.13333)">
<polyline points="30,100 70,100 100,115 120,95 140,82 175,90 205,85 235,80 265,100 300,110 330,125 360,125 375,140 385,165 400,175 430,170 465,165 475,180 460,195 440,200 470,210 510,215 540,235 570,255 595,280 590,305 575,320 555,325 550,350 535,350 530,330 540,315 520,305 490,305 450,300 410,300 380,300 350,315 325,330 290,330 270,315 260,300 240,310 215,325 185,325 200,340 185,360 170,385 155,410 145,435 125,430 120,405 110,380 100,350 85,330 60,315 35,300" fill="none" stroke="#000" stroke-width="20.6"/>
<polyline points="120,95 115,130 118,160 110,190 120,215 100,235 70,240" fill="none" stroke="#000" stroke-width="18.8"/>
<polyline points="115,250 110,270 90,275" fill="none" stroke="#000" stroke-width="18.8"/>
<polygon points="60,265 90,262 120,275 145,290 145,305 120,312 95,310 70,295 55,280" fill="#000" stroke="#000" stroke-width="11.2"/>
<polygon points="400,170 465,160 478,180 462,198 440,202 405,195" fill="#000" stroke="#000" stroke-width="11.2"/>
<polyline points="110,320 115,350 120,390 128,425" fill="none" stroke="#000" stroke-width="18.8"/>
<polyline points="35,250 60,258" fill="none" stroke="#000" stroke-width="18.8"/>
<polyline points="60,225 85,240" fill="none" stroke="#000" stroke-width="18.8"/>
</g>
<g transform="translate(215,100) scale(0.16667)">
<polygon points="135,105 150,92 175,95 210,98 250,100 290,100 320,108 330,120 320,135 305,150 285,158 250,158 210,160 175,160 150,160 138,150 140,130" fill="none" stroke="#000" stroke-width="16.5"/>
<polygon points="50,132 68,130 72,148 55,152" fill="#000" stroke="#000" stroke-width="6.0"/>
<polygon points="100,100 112,100 112,112 100,112" fill="#000" stroke="#000" stroke-width="6.0"/>
<polyline points="335,138 345,125 355,132 365,115 372,112" fill="none" stroke="#000" stroke-width="15.0"/>
<polyline points="388,110 410,102 440,96 462,86 478,72" fill="none" stroke="#000" stroke-width="22.5"/>
<polygon points="405,177 447,177 447,191 405,191" fill="#000" stroke="#000" stroke-width="6.0"/>
<polygon points="565,78 582,78 582,89 565,89" fill="#000" stroke="#000" stroke-width="6.0"/>
<polyline points="0,65 12,80 10,100 2,110" fill="none" stroke="#000" stroke-width="15.0"/>
</g>
<g transform="translate(295,100) scale(0.16667)">
<polygon points="112,118 135,122 152,115 155,128 140,145 125,140" fill="#000" stroke="#000" stroke-width="6.0"/>
<polygon points="150,152 168,150 172,168 155,172" fill="#000" stroke="#000" stroke-width="6.0"/>
<polyline points="143,208 160,225 180,245 195,262" fill="none" stroke="#000" stroke-width="22.5"/>
<polygon points="230,290 250,290 252,312 232,314" fill="#000" stroke="#000" stroke-width="6.0"/>
<polyline points="268,186 288,188 290,208" fill="none" stroke="#000" stroke-width="22.5"/>
<polygon points="262,255 285,248 302,258 298,276 270,278" fill="#000" stroke="#000" stroke-width="6.0"/>
<polygon points="285,345 300,340 310,355 305,375 312,395 300,408 290,392 285,365" fill="none" stroke="#000" stroke-width="18.8"/>
<polyline points="310,332 330,330 335,350 355,355 380,345" fill="none" stroke="#000" stroke-width="19.5"/>
<polygon points="335,390 355,390 357,410 337,412" fill="#000" stroke="#000" stroke-width="6.0"/>
<polygon points="320,430 340,432 348,450 345,470 335,478 325,460" fill="none" stroke="#000" stroke-width="18.8"/>
</g>
<g transform="translate(310,170) scale(0.16667)">
<polygon points="262,105 285,100 300,120 315,145 310,162 290,155 275,135" fill="none" stroke="#000" stroke-width="18.8"/>
<polygon points="280,212 292,190 305,212 300,240 282,240" fill="none" stroke="#000" stroke-width="18.8"/>
<polygon points="262,280 277,280 280,310 272,342 256,336 260,300" fill="#000" stroke="#000" stroke-width="6.0"/>
<polyline points="255,357 240,380 225,405 212,428" fill="none" stroke="#000" stroke-width="22.5"/>
<polygon points="200,418 225,415 228,440 205,452 192,440" fill="#000" stroke="#000" stroke-width="6.0"/>
<polygon points="440,290 460,285 478,300 475,320 455,322 445,305" fill="none" stroke="#000" stroke-width="18.8"/>
</g>
<g transform="translate(135,225) scale(0.16667)">
<polyline points="40,88 70,65 100,58 130,62 150,78 158,100 145,120 120,135 95,148 70,160 62,175 65,195 75,215 90,235 105,250" fill="none" stroke="#000" stroke-width="19.5"/>
<polyline points="40,175 62,172" fill="none" stroke="#000" stroke-width="15.0"/>
<polyline points="105,250 125,240 150,225 180,212 215,200 250,190 280,183 300,180 330,178 365,172 400,172 430,180 460,195 480,215 490,240 492,265 500,285 520,295 560,295 600,290 640,285 662,282" fill="none" stroke="#000" stroke-width="16.5"/>
<polygon points="285,180 265,165 255,145 255,120 265,100 285,90 305,98 315,118 318,145 312,165 300,180" fill="none" stroke="#000" stroke-width="16.5"/>
<polygon points="105,250 100,275 85,300 65,330 50,355 45,385 55,415 75,445 95,465 120,462 145,445 158,415 160,385 152,355 138,325 122,295 110,270" fill="none" stroke="#000" stroke-width="20.3"/>
<polyline points="40,222 70,238 105,250" fill="none" stroke="#000" stroke-width="20.3"/>
<polygon points="85,235 125,235 120,262 95,265" fill="#000" stroke="#000" stroke-width="6.0"/>
<polyline points="280,42 300,66" fill="none" stroke="#000" stroke-width="24.7"/>
<polyline points="387,70 410,88 435,108" fill="none" stroke="#000" stroke-width="27.0"/>
<polyline points="477,80 495,105" fill="none" stroke="#000" stroke-width="28.5"/>
<polygon points="530,325 560,318 577,330 565,345 540,347" fill="#000" stroke="#000" stroke-width="6.0"/>
<polygon points="620,365 650,365 652,385 625,385" fill="#000" stroke="#000" stroke-width="6.0"/>
<polygon points="585,455 605,455 605,480 585,480" fill="#000" stroke="#000" stroke-width="6.0"/>
</g>
<g transform="translate(240,225) scale(0.16667)">
<polygon points="10,125 35,118 62,122 65,145 40,150 15,148" fill="#000" stroke="#000" stroke-width="6.0"/>
<polygon points="100,125 120,125 120,148 100,148" fill="#000" stroke="#000" stroke-width="6.0"/>
<polygon points="280,120 300,122 315,132 312,142 285,138" fill="#000" stroke="#000" stroke-width="6.0"/>
<polygon points="457,180 472,180 472,195 457,195" fill="#000" stroke="#000" stroke-width="6.0"/>
<polygon points="188,237 228,235 228,250 190,252" fill="#000" stroke="#000" stroke-width="6.0"/>
<polygon points="310,228 335,222 355,235 365,213 385,218 387,245 365,257 350,267 335,262 318,248" fill="#000" stroke="#000" stroke-width="6.0"/>
<polygon points="335,272 360,270 360,284 335,285" fill="#000" stroke="#000" stroke-width="6.0"/>
<polyline points="0,275 40,272 90,272 115,280 130,300 150,318 180,332 210,345 240,348 262,335 280,322 310,315 335,305 360,295 385,295 410,285 440,272 480,268 530,265 580,262" fill="none" stroke="#000" stroke-width="16.5"/>
<polygon points="325,300 345,280 375,272 410,275 412,290 385,300 355,308" fill="#000" stroke="#000" stroke-width="6.0"/>
</g>
<g transform="translate(310,250) scale(0.16667)">
<polyline points="310,62 330,50 350,44" fill="none" stroke="#000" stroke-width="22.5"/>
<polyline points="0,122 40,118 90,122 130,118 175,118 220,112 260,108 300,100 305,120 295,145 300,165 285,180 250,182 215,185 190,190" fill="none" stroke="#000" stroke-width="16.5"/>
<polyline points="238,115 240,150 238,180" fill="none" stroke="#000" stroke-width="16.5"/>
<polyline points="55,140 90,135 130,140 175,135 235,127" fill="none" stroke="#000" stroke-width="16.5"/>
<polygon points="55,140 50,165 60,185 90,195 110,185 95,165 75,150" fill="none" stroke="#000" stroke-width="22.5"/>
<polyline points="110,190 130,215 140,240 165,250 185,235 200,250" fill="none" stroke="#000" stroke-width="22.5"/>
<polyline points="185,215 215,212 245,225 270,245 295,260 315,282" fill="none" stroke="#000" stroke-width="16.5"/>
<polygon points="285,285 320,280 340,310 345,345 330,370 300,385 275,390 262,370 270,340 280,310" fill="#000" stroke="#000" stroke-width="6.0"/>
<polygon points="135,287 160,285 165,318 140,320" fill="#000" stroke="#000" stroke-width="6.0"/>
<polyline points="120,375 150,362 190,360 230,372 262,385 300,385 340,370 380,365 410,375" fill="none" stroke="#000" stroke-width="18.0"/>
<polygon points="80,390 95,390 95,405 80,405" fill="#000" stroke="#000" stroke-width="6.0"/>
<polygon points="55,465 100,465 105,482 55,482" fill="#000" stroke="#000" stroke-width="6.0"/>
</g>
<g transform="translate(135,300) scale(0.25000)">
<polyline points="30,170 60,172 90,170 125,160 150,168 180,172 195,190 210,210 225,230 240,242 260,238 300,238 345,235 375,232 400,230" fill="none" stroke="#000" stroke-width="11.0"/>
<polyline points="400,230 405,222" fill="none" stroke="#000" stroke-width="11.0"/>
<polyline points="412,200 416,180 422,165" fill="none" stroke="#000" stroke-width="10.0"/>
<polyline points="432,155 450,142 468,126" fill="none" stroke="#000" stroke-width="11.0"/>
<polyline points="397,232 390,250 380,270 368,295 360,320 358,350 360,380 368,410 380,430 392,447" fill="none" stroke="#000" stroke-width="11.0"/>
<polyline points="397,0 396,18" fill="none" stroke="#000" stroke-width="10.0"/>
<polygon points="503,112 515,112 515,122 503,122" fill="#000" stroke="#000" stroke-width="4.0"/>
<polyline points="535,98 560,104" fill="none" stroke="#000" stroke-width="10.0"/>
<polyline points="615,100 625,96" fill="none" stroke="#000" stroke-width="10.0"/>
</g>
<g transform="translate(265,300) scale(0.25000)">
<polygon points="365,0 410,0 410,45 385,58 365,50" fill="#000" stroke="#000" stroke-width="4.0"/>
<polyline points="260,45 290,40 330,45 360,50 385,55 410,45 440,45 460,60 490,75 520,95 545,115 565,135 580,160 600,180 625,200 645,215 662,226" fill="none" stroke="#000" stroke-width="11.0"/>
<polyline points="460,65 440,90 415,110 400,130 410,150 430,160 425,175 395,185 370,195 360,215 355,240 350,255 365,275 385,295 405,315 420,322 440,310 450,325 455,345 450,365 470,380 485,395 490,415 480,435 465,448" fill="none" stroke="#000" stroke-width="11.0"/>
<polyline points="415,320 405,345 390,360 365,370 340,380 310,390 285,395 255,400 245,415 240,435 235,448" fill="none" stroke="#000" stroke-width="11.0"/>
<polyline points="80,390 100,400 130,405 160,410 190,415 210,425 225,440 235,448" fill="none" stroke="#000" stroke-width="11.0"/>
<polyline points="80,395 95,415 115,432 135,448" fill="none" stroke="#000" stroke-width="11.0"/>
<polyline points="580,160 570,185 565,205 562,222" fill="none" stroke="#000" stroke-width="11.0"/>
<polygon points="218,112 246,112 250,135 242,155 234,175 226,188 217,170 222,150 214,135" fill="#000" stroke="#000" stroke-width="4.0"/>
<polygon points="15,97 40,97 40,107 15,107" fill="#000" stroke="#000" stroke-width="4.0"/>
<polygon points="95,97 105,97 105,105 95,105" fill="#000" stroke="#000" stroke-width="4.0"/>
<polygon points="160,78 170,78 170,88 160,88" fill="#000" stroke="#000" stroke-width="4.0"/>
<polygon points="237,62 243,62 243,70 237,70" fill="#000" stroke="#000" stroke-width="4.0"/>
<polygon points="270,0 285,0 285,15 270,15" fill="#000" stroke="#000" stroke-width="4.0"/>
</g>
<g transform="translate(395,300) scale(0.25000)">
<polyline points="140,225 160,240 165,252 200,255 230,258 255,262 265,255 290,252 320,252 335,258 350,252 380,255 410,262 440,275 470,285 492,291" fill="none" stroke="#000" stroke-width="11.0"/>
<polyline points="60,170 50,190 45,210 42,225" fill="none" stroke="#000" stroke-width="11.0"/>
<polyline points="165,252 160,275 150,295 155,315 135,330 115,340 105,355 100,380 92,400 100,420 115,440 125,448" fill="none" stroke="#000" stroke-width="11.0"/>
<polyline points="410,262 405,285 390,305 378,325 372,350 375,375 385,400 400,420 410,440 412,448" fill="none" stroke="#000" stroke-width="11.0"/>
<polygon points="325,332 343,338 344,350 334,362 315,369 304,363 308,350 316,340" fill="none" stroke="#000" stroke-width="21.5"/>
<polygon points="320,246 340,246 340,264 320,264" fill="#000" stroke="#000" stroke-width="4.0"/>
<polygon points="255,262 265,262 265,275 255,275" fill="#000" stroke="#000" stroke-width="4.0"/>
</g>
</g>
</g>
<g>
<rect x="139" y="70" width="382" height="345.5" fill="none" stroke="none"/>
<rect x="138.8" y="70.0" width="382.2" height="3.8" fill="#000"/>
<rect x="138.8" y="411.8" width="382.2" height="3.6" fill="#000"/>
<rect x="138.8" y="70.0" width="3.7" height="345.4" fill="#000"/>
<rect x="517.5" y="70.0" width="3.5" height="345.4" fill="#000"/>
<rect x="140.3" y="71.0" width="7.4" height="2.0" fill="#fff"/>
<rect x="185.6" y="71.0" width="38.0" height="2.0" fill="#fff"/>
<rect x="261.6" y="71.0" width="37.9" height="2.0" fill="#fff"/>
<rect x="337.4" y="71.0" width="37.9" height="2.0" fill="#fff"/>
<rect x="413.4" y="71.0" width="37.9" height="2.0" fill="#fff"/>
<rect x="181.9" y="412.6" width="39.4" height="2.0" fill="#fff"/>
<rect x="260.7" y="412.6" width="39.4" height="2.0" fill="#fff"/>
<rect x="339.5" y="412.6" width="39.4" height="2.0" fill="#fff"/>
<rect x="418.3" y="412.6" width="39.4" height="2.0" fill="#fff"/>
<rect x="139.9" y="85.4" width="1.9" height="39.2" fill="#fff"/>
<rect x="518.4" y="84.2" width="1.9" height="40.0" fill="#fff"/>
<rect x="139.9" y="164.4" width="1.9" height="39.8" fill="#fff"/>
<rect x="518.4" y="164.6" width="1.9" height="39.5" fill="#fff"/>
<rect x="139.9" y="244.5" width="1.9" height="38.8" fill="#fff"/>
<rect x="518.4" y="243.9" width="1.9" height="39.0" fill="#fff"/>
<rect x="139.9" y="323.3" width="1.9" height="39.2" fill="#fff"/>
<rect x="518.4" y="324.0" width="1.9" height="39.1" fill="#fff"/>
<rect x="139.9" y="402.8" width="1.9" height="11.6" fill="#fff"/>
<rect x="518.4" y="403.6" width="1.9" height="11.0" fill="#fff"/>
<rect x="518.3" y="70.9" width="2.0" height="2.2" fill="#fff"/>
</g>
<g font-size="13px">
<text x="148.0" y="67.2" text-anchor="middle">-72</text>
<text x="142.1" y="426.7" text-anchor="middle">-72</text>
<text x="223.9" y="67.2" text-anchor="middle">-68</text>
<text x="220.9" y="426.7" text-anchor="middle">-68</text>
<text x="299.8" y="67.2" text-anchor="middle">-64</text>
<text x="299.7" y="426.7" text-anchor="middle">-64</text>
<text x="375.7" y="67.2" text-anchor="middle">-60</text>
<text x="378.5" y="426.7" text-anchor="middle">-60</text>
<text x="451.6" y="67.2" text-anchor="middle">-56</text>
<text x="457.3" y="426.7" text-anchor="middle">-56</text>
<text transform="translate(136,402.0) rotate(-90)" text-anchor="middle">4</text>
<text transform="translate(523.2,402.7) rotate(90)" text-anchor="middle">4</text>
<text transform="translate(136,323.3) rotate(-90)" text-anchor="middle">8</text>
<text transform="translate(523.2,322.6) rotate(90)" text-anchor="middle">8</text>
<text transform="translate(136,244.5) rotate(-90)" text-anchor="middle">12</text>
<text transform="translate(523.2,242.5) rotate(90)" text-anchor="middle">12</text>
<text transform="translate(136,164.4) rotate(-90)" text-anchor="middle">16</text>
<text transform="translate(523.2,163.2) rotate(90)" text-anchor="middle">16</text>
<text transform="translate(136,85.4) rotate(-90)" text-anchor="middle">20</text>
<text transform="translate(523.2,82.8) rotate(90)" text-anchor="middle">20</text>
</g>
<rect x="8" y="442" width="642" height="15.5" fill="url(#cbg)"/>
<g font-size="16.5px">
<text x="8.8" y="474.0" text-anchor="middle">0</text>
<text x="115.8" y="474.0" text-anchor="middle">1</text>
<text x="222.8" y="474.0" text-anchor="middle">2</text>
<text x="329.8" y="474.0" text-anchor="middle">3</text>
<text x="436.8" y="474.0" text-anchor="middle">4</text>
<text x="543.8" y="474.0" text-anchor="middle">5</text>
<text x="650.8" y="474.0" text-anchor="middle">6</text>
</g>
<text x="9.2" y="20.6" font-size="21.55px">DNA-damage UV dose (kJ/m2)</text>
<text x="8.8" y="45.6" font-size="17.9px" style="fill:#0000ff">MSR - KNMI</text>
<text x="650.6" y="20.6" font-size="21.55px" text-anchor="end">Clear-sky</text>
<text x="650.6" y="45.6" font-size="21.55px" text-anchor="end">27 May 1979</text>
</svg>
</body></html>
